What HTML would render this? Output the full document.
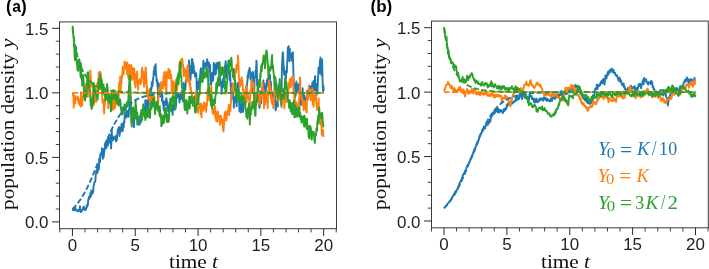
<!DOCTYPE html><html><head><meta charset="utf-8"><style>html,body{margin:0;padding:0;background:#fff;}svg{display:block;will-change:transform}</style></head><body>
<svg width="709" height="269" viewBox="0 0 709 269">
<rect width="709" height="269" fill="#fff"/>
<defs><clipPath id="ca"><rect x="59.5" y="21.9" width="277.0" height="206.8"/></clipPath><clipPath id="cb"><rect x="431.5" y="21.1" width="276.8" height="206.7"/></clipPath></defs>
<g clip-path="url(#ca)" fill="none" stroke-linejoin="round" stroke-linecap="butt">
<path d="M72.45,208.99 L72.76,208.86 L73.08,210.33 L73.39,209.58 L73.71,209.01 L74.02,208.54 L74.33,208.53 L74.65,210.42 L74.96,208.58 L75.28,207.44 L75.59,210.03 L75.90,209.28 L76.22,209.38 L76.53,209.86 L76.85,210.50 L77.16,211.23 L77.47,211.19 L77.79,210.45 L78.10,211.16 L78.42,211.26 L78.73,210.87 L79.04,209.60 L79.36,210.25 L79.67,208.29 L79.99,206.27 L80.30,210.17 L80.61,212.00 L80.93,211.04 L81.24,211.84 L81.56,211.60 L81.87,211.10 L82.18,209.94 L82.50,209.84 L82.81,209.31 L83.13,207.47 L83.44,208.79 L83.75,206.63 L84.07,208.51 L84.38,209.79 L84.70,208.92 L85.01,209.72 L85.32,208.53 L85.64,210.10 L85.95,208.16 L86.27,208.29 L86.58,206.38 L86.89,205.14 L87.21,206.76 L87.52,204.73 L87.84,205.18 L88.15,201.12 L88.46,198.64 L88.78,199.03 L89.09,196.70 L89.41,198.86 L89.72,195.92 L90.03,197.35 L90.35,193.58 L90.66,192.61 L90.98,196.53 L91.29,190.56 L91.60,194.44 L91.92,193.50 L92.23,192.99 L92.55,193.52 L92.86,191.34 L93.17,191.97 L93.49,186.41 L93.80,185.29 L94.12,184.63 L94.43,182.26 L94.74,182.22 L95.06,181.04 L95.37,181.21 L95.69,175.73 L96.00,174.02 L96.31,170.33 L96.63,171.92 L96.94,171.70 L97.26,168.20 L97.57,172.69 L97.88,167.27 L98.20,164.87 L98.51,168.36 L98.83,169.54 L99.14,161.50 L99.45,159.25 L99.77,160.50 L100.08,162.26 L100.40,153.85 L100.71,155.37 L101.02,154.25 L101.34,152.79 L101.65,153.23 L101.97,148.21 L102.28,148.97 L102.59,155.01 L102.91,158.73 L103.22,151.33 L103.54,157.71 L103.85,155.23 L104.16,151.83 L104.48,151.12 L104.79,146.81 L105.11,143.59 L105.42,146.31 L105.73,141.95 L106.05,147.77 L106.36,148.24 L106.68,140.21 L106.99,145.45 L107.30,140.10 L107.62,143.75 L107.93,145.69 L108.25,140.37 L108.56,138.09 L108.87,142.77 L109.19,141.45 L109.50,142.62 L109.82,139.31 L110.13,138.90 L110.44,135.49 L110.76,136.82 L111.07,148.45 L111.39,142.69 L111.70,129.01 L112.01,136.67 L112.33,136.40 L112.64,136.42 L112.96,140.38 L113.27,139.83 L113.58,138.96 L113.90,137.43 L114.21,138.89 L114.53,137.17 L114.84,138.76 L115.15,136.84 L115.47,136.07 L115.78,136.91 L116.10,141.46 L116.41,137.32 L116.72,140.76 L117.04,137.82 L117.35,133.34 L117.67,130.87 L117.98,129.20 L118.29,129.47 L118.61,128.89 L118.92,126.95 L119.24,127.88 L119.55,135.98 L119.86,129.28 L120.18,127.92 L120.49,132.33 L120.81,130.85 L121.12,129.99 L121.43,125.17 L121.75,123.68 L122.06,129.01 L122.38,129.80 L122.69,131.11 L123.00,127.27 L123.32,123.54 L123.63,127.35 L123.95,121.49 L124.26,123.29 L124.57,117.60 L124.89,113.49 L125.20,112.24 L125.52,115.20 L125.83,117.65 L126.14,113.22 L126.46,117.51 L126.77,116.57 L127.09,110.74 L127.40,115.45 L127.71,112.07 L128.03,113.94 L128.34,111.46 L128.66,116.73 L128.97,110.04 L129.28,108.85 L129.60,103.27 L129.91,108.07 L130.23,96.72 L130.54,96.34 L130.85,105.55 L131.17,110.82 L131.48,111.48 L131.80,108.55 L132.11,110.75 L132.42,112.95 L132.74,110.98 L133.05,108.00 L133.37,118.19 L133.68,117.16 L133.99,127.21 L134.31,116.38 L134.62,116.61 L134.94,113.29 L135.25,117.49 L135.56,109.96 L135.88,107.04 L136.19,110.68 L136.51,119.41 L136.82,119.10 L137.13,112.65 L137.45,124.62 L137.76,116.13 L138.08,117.65 L138.39,122.90 L138.70,117.29 L139.02,123.91 L139.33,124.80 L139.65,123.98 L139.96,123.87 L140.27,122.02 L140.59,122.16 L140.90,119.03 L141.22,121.61 L141.53,110.00 L141.84,116.03 L142.16,111.60 L142.47,110.12 L142.79,111.06 L143.10,113.15 L143.41,111.48 L143.73,111.74 L144.04,108.39 L144.36,109.77 L144.67,114.11 L144.98,111.07 L145.30,100.29 L145.61,106.40 L145.93,109.74 L146.24,104.90 L146.55,100.11 L146.87,110.99 L147.18,103.58 L147.50,104.33 L147.81,105.98 L148.12,108.76 L148.44,100.43 L148.75,105.34 L149.07,99.94 L149.38,89.98 L149.69,90.61 L150.01,99.55 L150.32,88.42 L150.64,93.02 L150.95,90.88 L151.26,89.74 L151.58,87.76 L151.89,82.28 L152.21,81.72 L152.52,86.01 L152.83,81.57 L153.15,78.29 L153.46,76.94 L153.78,70.95 L154.09,74.53 L154.40,66.70 L154.72,68.21 L155.03,67.04 L155.35,65.67 L155.66,64.30 L155.97,75.16 L156.29,75.20 L156.60,81.54 L156.92,79.43 L157.23,79.90 L157.54,86.68 L157.86,86.29 L158.17,99.67 L158.49,82.95 L158.80,85.70 L159.11,93.58 L159.43,89.94 L159.74,85.07 L160.06,96.33 L160.37,95.17 L160.68,94.99 L161.00,96.20 L161.31,96.90 L161.63,91.28 L161.94,100.99 L162.25,93.16 L162.57,100.87 L162.88,102.54 L163.20,103.89 L163.51,106.72 L163.82,110.50 L164.14,104.04 L164.45,101.79 L164.77,105.14 L165.08,101.31 L165.39,100.73 L165.71,104.96 L166.02,99.82 L166.34,98.11 L166.65,100.42 L166.96,102.66 L167.28,102.14 L167.59,107.04 L167.91,105.19 L168.22,111.54 L168.53,107.31 L168.85,109.13 L169.16,109.19 L169.48,108.42 L169.79,102.31 L170.10,107.75 L170.42,106.24 L170.73,103.90 L171.05,109.87 L171.36,111.24 L171.67,106.79 L171.99,111.08 L172.30,106.89 L172.62,114.89 L172.93,105.26 L173.24,103.73 L173.56,105.82 L173.87,108.36 L174.19,109.70 L174.50,104.26 L174.81,108.21 L175.13,108.17 L175.44,108.70 L175.76,107.46 L176.07,105.16 L176.38,97.12 L176.70,95.04 L177.01,95.14 L177.33,97.70 L177.64,96.17 L177.95,93.01 L178.27,95.35 L178.58,93.89 L178.90,96.97 L179.21,96.94 L179.52,102.48 L179.84,94.61 L180.15,99.59 L180.47,99.30 L180.78,99.20 L181.09,94.36 L181.41,93.33 L181.72,91.27 L182.04,98.86 L182.35,92.27 L182.66,90.43 L182.98,101.59 L183.29,96.36 L183.61,82.97 L183.92,90.53 L184.23,84.88 L184.55,85.64 L184.86,89.30 L185.18,90.04 L185.49,88.30 L185.80,80.19 L186.12,82.68 L186.43,79.90 L186.75,80.56 L187.06,74.73 L187.37,77.12 L187.69,69.52 L188.00,75.58 L188.32,76.74 L188.63,77.76 L188.94,60.44 L189.26,76.78 L189.57,75.83 L189.89,65.96 L190.20,70.47 L190.51,79.88 L190.83,73.50 L191.14,68.98 L191.46,66.55 L191.77,59.32 L192.08,72.06 L192.40,59.10 L192.71,73.16 L193.03,62.76 L193.34,72.27 L193.65,65.16 L193.97,72.45 L194.28,72.14 L194.60,71.26 L194.91,76.46 L195.22,73.03 L195.54,73.04 L195.85,73.21 L196.17,73.39 L196.48,78.07 L196.79,91.13 L197.11,89.94 L197.42,85.17 L197.74,81.90 L198.05,81.71 L198.36,86.85 L198.68,84.62 L198.99,89.01 L199.31,78.74 L199.62,79.32 L199.93,78.08 L200.25,74.00 L200.56,69.96 L200.88,68.16 L201.19,72.80 L201.50,80.16 L201.82,71.67 L202.13,76.29 L202.45,79.03 L202.76,78.48 L203.07,68.76 L203.39,60.60 L203.70,72.80 L204.02,64.46 L204.33,66.37 L204.64,64.08 L204.96,65.34 L205.27,63.21 L205.59,63.87 L205.90,66.52 L206.21,68.57 L206.53,62.24 L206.84,65.89 L207.16,59.28 L207.47,60.79 L207.78,65.02 L208.10,64.01 L208.41,63.66 L208.73,66.96 L209.04,62.79 L209.35,67.86 L209.67,71.73 L209.98,65.00 L210.30,78.71 L210.61,84.20 L210.92,80.77 L211.24,84.42 L211.55,81.20 L211.87,76.67 L212.18,72.59 L212.49,72.89 L212.81,75.21 L213.12,80.43 L213.44,75.80 L213.75,62.95 L214.06,65.90 L214.38,65.63 L214.69,64.89 L215.01,72.40 L215.32,74.65 L215.63,70.11 L215.95,73.53 L216.26,63.33 L216.58,65.66 L216.89,64.46 L217.20,62.92 L217.52,68.23 L217.83,66.07 L218.15,62.36 L218.46,67.57 L218.77,71.25 L219.09,70.62 L219.40,77.93 L219.72,75.25 L220.03,79.21 L220.34,79.15 L220.66,83.71 L220.97,84.70 L221.29,83.25 L221.60,93.84 L221.91,86.36 L222.23,81.84 L222.54,81.66 L222.86,82.03 L223.17,78.31 L223.48,86.73 L223.80,84.71 L224.11,75.03 L224.43,79.79 L224.74,73.51 L225.05,66.06 L225.37,64.09 L225.68,61.16 L226.00,67.41 L226.31,69.84 L226.62,78.03 L226.94,68.41 L227.25,66.30 L227.57,65.30 L227.88,72.69 L228.19,65.44 L228.51,60.60 L228.82,69.39 L229.14,68.17 L229.45,71.85 L229.76,80.24 L230.08,70.64 L230.39,79.65 L230.71,86.00 L231.02,93.13 L231.33,83.78 L231.65,96.77 L231.96,92.03 L232.28,93.12 L232.59,89.67 L232.90,95.22 L233.22,99.09 L233.53,95.94 L233.85,107.60 L234.16,99.76 L234.47,103.17 L234.79,100.90 L235.10,99.14 L235.42,97.21 L235.73,98.73 L236.04,94.92 L236.36,94.58 L236.67,106.26 L236.99,92.63 L237.30,83.18 L237.61,87.06 L237.93,89.20 L238.24,82.84 L238.56,89.15 L238.87,101.65 L239.18,100.61 L239.50,111.42 L239.81,110.78 L240.13,107.19 L240.44,111.07 L240.75,112.64 L241.07,105.70 L241.38,101.72 L241.70,104.76 L242.01,101.52 L242.32,109.66 L242.64,111.26 L242.95,112.10 L243.27,108.37 L243.58,103.86 L243.89,103.45 L244.21,93.15 L244.52,99.56 L244.84,93.60 L245.15,94.64 L245.46,94.91 L245.78,94.10 L246.09,92.74 L246.41,101.91 L246.72,87.13 L247.03,83.73 L247.35,82.61 L247.66,75.81 L247.98,78.31 L248.29,73.08 L248.60,71.07 L248.92,70.66 L249.23,69.78 L249.55,68.00 L249.86,70.05 L250.17,73.17 L250.49,79.52 L250.80,74.61 L251.12,73.20 L251.43,77.87 L251.74,92.03 L252.06,76.81 L252.37,77.43 L252.69,71.90 L253.00,72.32 L253.31,82.31 L253.63,90.77 L253.94,93.84 L254.26,92.38 L254.57,78.74 L254.88,77.64 L255.20,77.59 L255.51,70.60 L255.83,73.11 L256.14,68.91 L256.45,60.60 L256.77,64.48 L257.08,85.12 L257.40,80.50 L257.71,86.73 L258.02,102.15 L258.34,99.95 L258.65,99.22 L258.97,100.56 L259.28,107.15 L259.59,107.79 L259.91,103.95 L260.22,91.32 L260.54,97.00 L260.85,99.50 L261.16,103.35 L261.48,91.84 L261.79,96.87 L262.11,87.85 L262.42,94.32 L262.73,86.87 L263.05,87.37 L263.36,80.39 L263.68,96.96 L263.99,101.18 L264.30,83.38 L264.62,94.86 L264.93,92.33 L265.25,95.88 L265.56,93.35 L265.87,89.54 L266.19,88.47 L266.50,84.68 L266.82,80.46 L267.13,82.72 L267.44,79.04 L267.76,79.71 L268.07,78.69 L268.39,84.99 L268.70,87.49 L269.01,86.35 L269.33,85.03 L269.64,80.23 L269.96,74.67 L270.27,84.39 L270.58,87.84 L270.90,81.74 L271.21,93.74 L271.53,90.99 L271.84,94.06 L272.15,94.55 L272.47,103.80 L272.78,101.37 L273.10,96.94 L273.41,96.80 L273.72,100.11 L274.04,93.43 L274.35,91.92 L274.67,89.91 L274.98,97.55 L275.29,103.00 L275.61,110.36 L275.92,109.31 L276.24,106.49 L276.55,105.82 L276.86,106.51 L277.18,100.99 L277.49,99.81 L277.81,106.35 L278.12,94.74 L278.43,86.35 L278.75,91.19 L279.06,90.96 L279.38,83.96 L279.69,88.21 L280.00,92.85 L280.32,98.42 L280.63,90.64 L280.95,92.64 L281.26,92.30 L281.57,91.28 L281.89,69.23 L282.20,62.94 L282.52,55.88 L282.83,52.30 L283.14,55.98 L283.46,63.36 L283.77,66.38 L284.09,74.49 L284.40,70.26 L284.71,72.48 L285.03,72.75 L285.34,72.48 L285.66,79.65 L285.97,78.16 L286.28,71.22 L286.60,70.21 L286.91,72.26 L287.23,62.01 L287.54,58.53 L287.85,47.27 L288.17,48.91 L288.48,51.56 L288.80,46.20 L289.11,56.60 L289.42,61.27 L289.74,48.61 L290.05,55.66 L290.37,57.03 L290.68,56.31 L290.99,54.39 L291.31,53.41 L291.62,60.59 L291.94,58.94 L292.25,57.56 L292.56,54.02 L292.88,52.30 L293.19,64.13 L293.51,76.08 L293.82,85.89 L294.13,83.51 L294.45,85.40 L294.76,84.39 L295.08,97.36 L295.39,87.14 L295.70,95.72 L296.02,87.35 L296.33,81.53 L296.65,85.25 L296.96,85.03 L297.27,84.48 L297.59,92.91 L297.90,88.55 L298.22,87.00 L298.53,89.99 L298.84,87.60 L299.16,83.82 L299.47,88.50 L299.79,84.47 L300.10,91.11 L300.41,95.31 L300.73,99.34 L301.04,105.02 L301.36,99.53 L301.67,93.27 L301.98,94.25 L302.30,94.73 L302.61,88.17 L302.93,92.32 L303.24,101.48 L303.55,95.61 L303.87,97.87 L304.18,95.17 L304.50,98.44 L304.81,102.19 L305.12,97.60 L305.44,104.57 L305.75,98.79 L306.07,106.79 L306.38,98.36 L306.69,96.77 L307.01,91.52 L307.32,90.67 L307.64,96.14 L307.95,99.41 L308.26,97.33 L308.58,94.59 L308.89,87.38 L309.21,85.57 L309.52,95.28 L309.83,88.34 L310.15,86.63 L310.46,96.27 L310.78,89.47 L311.09,86.10 L311.40,92.74 L311.72,95.27 L312.03,90.14 L312.35,82.63 L312.66,91.35 L312.97,90.72 L313.29,85.85 L313.60,81.00 L313.92,83.15 L314.23,87.57 L314.54,90.16 L314.86,77.02 L315.17,76.15 L315.49,85.31 L315.80,83.96 L316.11,84.12 L316.43,89.56 L316.74,94.82 L317.06,92.10 L317.37,92.62 L317.68,87.00 L318.00,78.32 L318.31,74.40 L318.63,67.43 L318.94,68.28 L319.25,72.62 L319.57,73.20 L319.88,60.61 L320.20,66.00 L320.51,57.40 L320.82,66.42 L321.14,69.77 L321.45,75.35 L321.77,74.00 L322.08,59.46 L322.39,71.58 L322.71,84.39 L323.02,91.25 L323.34,85.50 L323.65,91.14" stroke="#1f77b4" stroke-width="1.90"/>
<path d="M72.45,92.84 L72.76,93.03 L73.08,95.36 L73.39,94.50 L73.71,107.70 L74.02,100.28 L74.33,98.98 L74.65,100.13 L74.96,95.86 L75.28,103.21 L75.59,98.19 L75.90,97.86 L76.22,97.55 L76.53,97.92 L76.85,98.80 L77.16,98.03 L77.47,99.60 L77.79,96.49 L78.10,100.48 L78.42,101.27 L78.73,103.90 L79.04,99.40 L79.36,101.64 L79.67,101.47 L79.99,105.17 L80.30,105.30 L80.61,106.53 L80.93,92.30 L81.24,103.33 L81.56,102.61 L81.87,101.38 L82.18,105.44 L82.50,98.71 L82.81,96.45 L83.13,96.35 L83.44,96.56 L83.75,91.83 L84.07,90.28 L84.38,90.15 L84.70,99.72 L85.01,99.34 L85.32,95.39 L85.64,84.06 L85.95,90.41 L86.27,93.94 L86.58,92.04 L86.89,91.02 L87.21,90.70 L87.52,85.32 L87.84,96.62 L88.15,84.82 L88.46,81.13 L88.78,85.39 L89.09,91.15 L89.41,86.07 L89.72,81.94 L90.03,81.13 L90.35,70.40 L90.66,78.74 L90.98,79.57 L91.29,86.67 L91.60,82.01 L91.92,86.01 L92.23,84.54 L92.55,84.26 L92.86,84.19 L93.17,96.75 L93.49,95.14 L93.80,104.97 L94.12,102.95 L94.43,101.57 L94.74,93.46 L95.06,92.81 L95.37,99.09 L95.69,101.01 L96.00,96.63 L96.31,101.83 L96.63,96.03 L96.94,97.38 L97.26,83.61 L97.57,82.47 L97.88,85.45 L98.20,81.04 L98.51,78.43 L98.83,72.73 L99.14,77.02 L99.45,71.80 L99.77,76.09 L100.08,76.89 L100.40,72.24 L100.71,81.15 L101.02,76.57 L101.34,81.77 L101.65,88.98 L101.97,94.33 L102.28,96.60 L102.59,102.89 L102.91,99.28 L103.22,101.96 L103.54,103.27 L103.85,107.41 L104.16,113.50 L104.48,108.21 L104.79,103.79 L105.11,97.13 L105.42,96.08 L105.73,88.35 L106.05,92.95 L106.36,94.60 L106.68,93.28 L106.99,96.42 L107.30,92.90 L107.62,92.15 L107.93,97.52 L108.25,108.30 L108.56,96.47 L108.87,102.27 L109.19,103.82 L109.50,98.45 L109.82,98.52 L110.13,93.58 L110.44,99.34 L110.76,103.35 L111.07,102.52 L111.39,101.79 L111.70,97.02 L112.01,103.02 L112.33,106.12 L112.64,107.09 L112.96,109.93 L113.27,107.84 L113.58,109.17 L113.90,102.91 L114.21,96.59 L114.53,94.01 L114.84,95.67 L115.15,107.88 L115.47,94.34 L115.78,95.57 L116.10,92.75 L116.41,93.16 L116.72,97.79 L117.04,104.40 L117.35,97.35 L117.67,95.31 L117.98,98.40 L118.29,90.88 L118.61,99.15 L118.92,84.39 L119.24,92.35 L119.55,82.21 L119.86,85.68 L120.18,76.83 L120.49,87.47 L120.81,90.19 L121.12,80.87 L121.43,84.45 L121.75,75.02 L122.06,77.48 L122.38,74.33 L122.69,67.03 L123.00,73.72 L123.32,70.44 L123.63,74.32 L123.95,68.73 L124.26,67.79 L124.57,61.40 L124.89,67.71 L125.20,66.63 L125.52,62.56 L125.83,63.53 L126.14,65.96 L126.46,70.18 L126.77,69.17 L127.09,73.83 L127.40,62.56 L127.71,73.12 L128.03,74.61 L128.34,76.90 L128.66,78.86 L128.97,74.77 L129.28,64.87 L129.60,75.65 L129.91,78.39 L130.23,74.05 L130.54,77.96 L130.85,66.97 L131.17,65.03 L131.48,72.81 L131.80,66.97 L132.11,80.00 L132.42,76.25 L132.74,72.60 L133.05,68.23 L133.37,77.37 L133.68,78.51 L133.99,72.32 L134.31,68.39 L134.62,84.11 L134.94,76.07 L135.25,84.14 L135.56,87.63 L135.88,83.00 L136.19,73.83 L136.51,79.01 L136.82,76.82 L137.13,71.57 L137.45,79.42 L137.76,81.84 L138.08,89.73 L138.39,82.57 L138.70,80.80 L139.02,81.28 L139.33,81.61 L139.65,79.51 L139.96,80.49 L140.27,82.98 L140.59,84.36 L140.90,82.50 L141.22,77.32 L141.53,81.94 L141.84,70.30 L142.16,67.62 L142.47,75.55 L142.79,77.98 L143.10,72.04 L143.41,71.40 L143.73,78.32 L144.04,86.88 L144.36,74.59 L144.67,78.42 L144.98,83.86 L145.30,79.05 L145.61,67.43 L145.93,68.73 L146.24,77.75 L146.55,78.57 L146.87,94.19 L147.18,86.40 L147.50,96.36 L147.81,94.18 L148.12,98.69 L148.44,96.88 L148.75,91.33 L149.07,95.57 L149.38,89.69 L149.69,92.48 L150.01,98.17 L150.32,105.32 L150.64,99.88 L150.95,97.84 L151.26,99.36 L151.58,96.44 L151.89,99.28 L152.21,93.66 L152.52,101.19 L152.83,104.94 L153.15,98.70 L153.46,95.75 L153.78,100.55 L154.09,96.83 L154.40,96.79 L154.72,104.08 L155.03,102.28 L155.35,102.52 L155.66,102.67 L155.97,106.92 L156.29,101.92 L156.60,105.03 L156.92,108.54 L157.23,106.46 L157.54,109.69 L157.86,101.97 L158.17,105.59 L158.49,93.57 L158.80,89.51 L159.11,92.75 L159.43,88.05 L159.74,95.25 L160.06,90.27 L160.37,85.03 L160.68,91.75 L161.00,84.20 L161.31,81.88 L161.63,88.49 L161.94,88.10 L162.25,85.56 L162.57,88.23 L162.88,88.54 L163.20,88.06 L163.51,76.17 L163.82,85.51 L164.14,72.21 L164.45,73.11 L164.77,72.85 L165.08,71.99 L165.39,75.07 L165.71,85.66 L166.02,89.51 L166.34,93.58 L166.65,81.39 L166.96,72.75 L167.28,75.97 L167.59,71.36 L167.91,77.69 L168.22,74.94 L168.53,68.80 L168.85,76.69 L169.16,75.57 L169.48,78.34 L169.79,71.95 L170.10,70.34 L170.42,77.16 L170.73,75.30 L171.05,74.58 L171.36,77.22 L171.67,92.82 L171.99,91.33 L172.30,92.12 L172.62,94.23 L172.93,81.15 L173.24,85.75 L173.56,92.18 L173.87,84.85 L174.19,86.74 L174.50,85.59 L174.81,93.35 L175.13,82.02 L175.44,86.53 L175.76,81.34 L176.07,79.45 L176.38,83.92 L176.70,87.94 L177.01,89.99 L177.33,84.66 L177.64,85.88 L177.95,79.32 L178.27,78.74 L178.58,78.06 L178.90,73.74 L179.21,74.00 L179.52,64.97 L179.84,61.67 L180.15,71.90 L180.47,65.60 L180.78,65.36 L181.09,59.41 L181.41,60.11 L181.72,65.68 L182.04,58.66 L182.35,59.01 L182.66,63.87 L182.98,65.02 L183.29,67.97 L183.61,76.08 L183.92,72.11 L184.23,73.38 L184.55,68.25 L184.86,69.55 L185.18,69.77 L185.49,75.26 L185.80,76.83 L186.12,75.30 L186.43,82.69 L186.75,78.56 L187.06,75.71 L187.37,66.11 L187.69,70.96 L188.00,65.40 L188.32,74.64 L188.63,78.26 L188.94,82.22 L189.26,79.14 L189.57,85.39 L189.89,81.90 L190.20,83.24 L190.51,90.13 L190.83,87.40 L191.14,93.46 L191.46,91.81 L191.77,92.72 L192.08,95.63 L192.40,102.30 L192.71,98.30 L193.03,103.95 L193.34,103.54 L193.65,100.40 L193.97,97.01 L194.28,96.24 L194.60,97.09 L194.91,105.53 L195.22,96.82 L195.54,97.48 L195.85,91.43 L196.17,100.23 L196.48,99.02 L196.79,106.37 L197.11,108.30 L197.42,110.27 L197.74,112.90 L198.05,110.41 L198.36,108.44 L198.68,107.47 L198.99,106.57 L199.31,105.92 L199.62,106.42 L199.93,103.89 L200.25,107.53 L200.56,114.11 L200.88,109.36 L201.19,103.57 L201.50,117.19 L201.82,108.41 L202.13,105.45 L202.45,108.67 L202.76,106.08 L203.07,109.80 L203.39,110.52 L203.70,107.65 L204.02,102.35 L204.33,103.03 L204.64,107.90 L204.96,103.39 L205.27,105.87 L205.59,104.76 L205.90,104.46 L206.21,111.78 L206.53,103.59 L206.84,104.47 L207.16,105.31 L207.47,89.20 L207.78,95.22 L208.10,91.99 L208.41,95.05 L208.73,97.70 L209.04,93.92 L209.35,100.49 L209.67,93.77 L209.98,88.78 L210.30,94.28 L210.61,96.42 L210.92,93.24 L211.24,85.97 L211.55,95.10 L211.87,99.47 L212.18,102.69 L212.49,112.92 L212.81,110.96 L213.12,111.22 L213.44,114.00 L213.75,114.14 L214.06,111.61 L214.38,108.31 L214.69,112.78 L215.01,106.20 L215.32,117.05 L215.63,117.23 L215.95,117.90 L216.26,121.15 L216.58,112.14 L216.89,115.39 L217.20,115.64 L217.52,121.80 L217.83,111.48 L218.15,113.34 L218.46,118.14 L218.77,116.87 L219.09,118.26 L219.40,116.10 L219.72,116.21 L220.03,124.90 L220.34,122.82 L220.66,120.92 L220.97,115.68 L221.29,119.35 L221.60,118.82 L221.91,122.58 L222.23,119.28 L222.54,119.68 L222.86,128.65 L223.17,125.31 L223.48,131.50 L223.80,127.45 L224.11,122.94 L224.43,115.25 L224.74,113.13 L225.05,112.70 L225.37,111.35 L225.68,115.78 L226.00,115.06 L226.31,120.54 L226.62,118.77 L226.94,115.25 L227.25,114.23 L227.57,111.23 L227.88,110.32 L228.19,111.03 L228.51,109.70 L228.82,104.78 L229.14,115.07 L229.45,110.43 L229.76,111.84 L230.08,107.41 L230.39,110.92 L230.71,104.06 L231.02,101.84 L231.33,93.14 L231.65,96.38 L231.96,87.56 L232.28,89.43 L232.59,88.73 L232.90,83.20 L233.22,88.94 L233.53,85.67 L233.85,87.36 L234.16,86.53 L234.47,90.23 L234.79,84.11 L235.10,72.88 L235.42,70.16 L235.73,70.02 L236.04,72.65 L236.36,65.23 L236.67,64.82 L236.99,68.24 L237.30,66.23 L237.61,68.90 L237.93,55.40 L238.24,61.43 L238.56,68.04 L238.87,76.74 L239.18,79.80 L239.50,84.82 L239.81,86.82 L240.13,85.80 L240.44,85.43 L240.75,83.79 L241.07,79.78 L241.38,79.15 L241.70,77.29 L242.01,80.79 L242.32,80.39 L242.64,86.44 L242.95,90.68 L243.27,91.12 L243.58,89.30 L243.89,93.37 L244.21,98.35 L244.52,98.24 L244.84,103.22 L245.15,106.17 L245.46,102.46 L245.78,103.33 L246.09,85.85 L246.41,90.37 L246.72,97.44 L247.03,89.54 L247.35,97.84 L247.66,92.89 L247.98,96.86 L248.29,96.96 L248.60,99.57 L248.92,97.91 L249.23,100.03 L249.55,107.49 L249.86,107.72 L250.17,91.15 L250.49,94.69 L250.80,93.01 L251.12,93.26 L251.43,85.59 L251.74,79.11 L252.06,86.74 L252.37,83.15 L252.69,83.53 L253.00,83.15 L253.31,83.84 L253.63,82.74 L253.94,95.93 L254.26,97.22 L254.57,93.07 L254.88,96.70 L255.20,96.77 L255.51,101.05 L255.83,99.37 L256.14,94.91 L256.45,93.89 L256.77,96.16 L257.08,96.32 L257.40,95.12 L257.71,95.18 L258.02,96.01 L258.34,92.40 L258.65,94.44 L258.97,104.79 L259.28,103.29 L259.59,95.67 L259.91,101.03 L260.22,103.34 L260.54,94.77 L260.85,97.85 L261.16,95.75 L261.48,95.63 L261.79,94.18 L262.11,98.02 L262.42,82.24 L262.73,88.56 L263.05,91.45 L263.36,97.98 L263.68,89.83 L263.99,108.18 L264.30,95.71 L264.62,94.69 L264.93,96.67 L265.25,104.61 L265.56,97.17 L265.87,96.36 L266.19,101.67 L266.50,97.69 L266.82,94.35 L267.13,95.49 L267.44,96.03 L267.76,108.32 L268.07,90.34 L268.39,95.21 L268.70,94.04 L269.01,80.31 L269.33,80.69 L269.64,92.14 L269.96,93.45 L270.27,86.16 L270.58,93.65 L270.90,98.73 L271.21,90.53 L271.53,101.70 L271.84,100.75 L272.15,101.69 L272.47,97.74 L272.78,103.52 L273.10,103.65 L273.41,108.29 L273.72,102.73 L274.04,102.06 L274.35,96.82 L274.67,93.09 L274.98,88.33 L275.29,94.80 L275.61,93.12 L275.92,87.57 L276.24,89.95 L276.55,92.95 L276.86,96.16 L277.18,89.67 L277.49,91.90 L277.81,89.53 L278.12,97.84 L278.43,102.16 L278.75,98.36 L279.06,94.90 L279.38,96.84 L279.69,96.41 L280.00,99.11 L280.32,97.48 L280.63,95.19 L280.95,94.21 L281.26,101.13 L281.57,107.35 L281.89,92.33 L282.20,89.08 L282.52,96.32 L282.83,89.46 L283.14,96.92 L283.46,99.11 L283.77,96.67 L284.09,100.82 L284.40,108.40 L284.71,102.40 L285.03,96.90 L285.34,99.18 L285.66,98.72 L285.97,92.11 L286.28,93.37 L286.60,102.11 L286.91,98.55 L287.23,100.57 L287.54,88.95 L287.85,96.35 L288.17,95.41 L288.48,83.32 L288.80,88.50 L289.11,86.89 L289.42,85.11 L289.74,80.00 L290.05,83.97 L290.37,78.55 L290.68,78.58 L290.99,86.93 L291.31,80.57 L291.62,81.56 L291.94,78.29 L292.25,76.84 L292.56,82.43 L292.88,83.91 L293.19,76.80 L293.51,94.02 L293.82,93.25 L294.13,90.25 L294.45,105.07 L294.76,98.33 L295.08,105.33 L295.39,105.96 L295.70,111.49 L296.02,102.31 L296.33,102.99 L296.65,102.63 L296.96,103.86 L297.27,107.13 L297.59,109.69 L297.90,112.89 L298.22,110.76 L298.53,112.76 L298.84,112.60 L299.16,100.11 L299.47,92.94 L299.79,90.44 L300.10,77.34 L300.41,91.18 L300.73,94.77 L301.04,96.26 L301.36,93.42 L301.67,99.47 L301.98,100.03 L302.30,97.90 L302.61,104.22 L302.93,100.41 L303.24,104.05 L303.55,109.97 L303.87,101.16 L304.18,104.98 L304.50,103.06 L304.81,100.88 L305.12,108.14 L305.44,105.40 L305.75,109.69 L306.07,110.62 L306.38,106.58 L306.69,112.53 L307.01,96.98 L307.32,92.20 L307.64,95.59 L307.95,97.56 L308.26,98.94 L308.58,95.95 L308.89,86.58 L309.21,90.26 L309.52,93.06 L309.83,89.12 L310.15,90.31 L310.46,91.73 L310.78,100.28 L311.09,99.84 L311.40,94.46 L311.72,91.86 L312.03,91.92 L312.35,88.50 L312.66,97.75 L312.97,104.48 L313.29,99.53 L313.60,106.77 L313.92,96.15 L314.23,92.20 L314.54,97.28 L314.86,99.94 L315.17,94.25 L315.49,94.50 L315.80,92.15 L316.11,101.65 L316.43,104.22 L316.74,106.53 L317.06,109.90 L317.37,102.99 L317.68,107.42 L318.00,103.68 L318.31,107.19 L318.63,98.37 L318.94,111.76 L319.25,113.56 L319.57,120.82 L319.88,116.95 L320.20,113.92 L320.51,122.74 L320.82,124.97 L321.14,118.63 L321.45,124.28 L321.77,134.83 L322.08,129.57 L322.39,132.92 L322.71,130.41 L323.02,130.11 L323.34,136.30 L323.65,137.00" stroke="#ff7f0e" stroke-width="1.90"/>
<path d="M72.45,25.73 L72.76,27.21 L73.08,32.40 L73.39,35.02 L73.71,38.37 L74.02,47.05 L74.33,47.20 L74.65,56.92 L74.96,60.14 L75.28,58.87 L75.59,51.56 L75.90,47.32 L76.22,56.81 L76.53,58.99 L76.85,63.84 L77.16,63.91 L77.47,69.85 L77.79,65.17 L78.10,70.80 L78.42,61.13 L78.73,61.32 L79.04,67.85 L79.36,59.29 L79.67,63.40 L79.99,63.39 L80.30,72.52 L80.61,77.42 L80.93,63.27 L81.24,72.59 L81.56,79.04 L81.87,76.66 L82.18,85.64 L82.50,83.47 L82.81,83.48 L83.13,75.08 L83.44,78.67 L83.75,84.59 L84.07,96.35 L84.38,90.08 L84.70,98.90 L85.01,100.59 L85.32,98.30 L85.64,96.97 L85.95,96.92 L86.27,95.51 L86.58,88.88 L86.89,84.72 L87.21,79.91 L87.52,72.33 L87.84,77.61 L88.15,72.19 L88.46,80.21 L88.78,81.71 L89.09,87.67 L89.41,87.45 L89.72,88.24 L90.03,91.65 L90.35,97.98 L90.66,105.57 L90.98,101.05 L91.29,99.60 L91.60,109.00 L91.92,105.98 L92.23,107.75 L92.55,95.84 L92.86,100.95 L93.17,103.85 L93.49,98.15 L93.80,83.00 L94.12,85.26 L94.43,89.35 L94.74,86.15 L95.06,93.14 L95.37,90.82 L95.69,90.93 L96.00,92.35 L96.31,95.24 L96.63,96.20 L96.94,92.87 L97.26,97.31 L97.57,99.75 L97.88,95.37 L98.20,91.74 L98.51,88.38 L98.83,78.74 L99.14,81.11 L99.45,85.45 L99.77,87.91 L100.08,88.83 L100.40,74.01 L100.71,87.54 L101.02,84.79 L101.34,81.34 L101.65,79.56 L101.97,82.64 L102.28,86.27 L102.59,93.41 L102.91,92.45 L103.22,90.73 L103.54,84.33 L103.85,89.07 L104.16,87.79 L104.48,95.31 L104.79,91.63 L105.11,96.02 L105.42,100.59 L105.73,95.01 L106.05,99.71 L106.36,94.81 L106.68,99.18 L106.99,84.06 L107.30,86.05 L107.62,87.34 L107.93,94.24 L108.25,94.90 L108.56,102.25 L108.87,96.87 L109.19,100.25 L109.50,97.59 L109.82,95.42 L110.13,101.21 L110.44,100.84 L110.76,108.35 L111.07,111.30 L111.39,102.55 L111.70,97.48 L112.01,92.44 L112.33,95.60 L112.64,99.56 L112.96,95.15 L113.27,89.88 L113.58,90.65 L113.90,95.78 L114.21,95.98 L114.53,98.74 L114.84,93.37 L115.15,91.81 L115.47,91.20 L115.78,92.79 L116.10,101.07 L116.41,92.69 L116.72,102.88 L117.04,97.84 L117.35,95.08 L117.67,94.78 L117.98,98.27 L118.29,103.21 L118.61,105.51 L118.92,103.37 L119.24,104.61 L119.55,102.47 L119.86,99.36 L120.18,99.61 L120.49,102.71 L120.81,108.45 L121.12,109.36 L121.43,111.13 L121.75,114.03 L122.06,107.35 L122.38,114.67 L122.69,113.47 L123.00,112.02 L123.32,107.83 L123.63,106.91 L123.95,109.33 L124.26,105.77 L124.57,104.54 L124.89,106.60 L125.20,106.32 L125.52,113.17 L125.83,107.50 L126.14,107.47 L126.46,104.67 L126.77,102.80 L127.09,106.58 L127.40,102.11 L127.71,101.16 L128.03,103.02 L128.34,100.89 L128.66,92.15 L128.97,87.09 L129.28,82.44 L129.60,75.68 L129.91,75.99 L130.23,84.19 L130.54,95.60 L130.85,102.82 L131.17,121.19 L131.48,123.83 L131.80,126.49 L132.11,119.93 L132.42,119.70 L132.74,120.50 L133.05,107.49 L133.37,118.93 L133.68,115.96 L133.99,116.43 L134.31,113.43 L134.62,109.70 L134.94,116.43 L135.25,108.63 L135.56,99.88 L135.88,105.93 L136.19,108.06 L136.51,114.69 L136.82,112.54 L137.13,112.98 L137.45,123.92 L137.76,120.55 L138.08,121.76 L138.39,121.96 L138.70,121.24 L139.02,121.63 L139.33,118.02 L139.65,116.31 L139.96,118.06 L140.27,117.24 L140.59,113.70 L140.90,115.42 L141.22,118.24 L141.53,110.63 L141.84,119.85 L142.16,116.03 L142.47,115.86 L142.79,113.76 L143.10,104.16 L143.41,111.45 L143.73,111.50 L144.04,110.00 L144.36,116.02 L144.67,117.12 L144.98,113.10 L145.30,119.99 L145.61,114.58 L145.93,115.32 L146.24,115.98 L146.55,117.70 L146.87,110.91 L147.18,108.51 L147.50,114.30 L147.81,115.64 L148.12,116.46 L148.44,116.78 L148.75,107.94 L149.07,109.20 L149.38,111.54 L149.69,117.28 L150.01,117.96 L150.32,109.74 L150.64,107.77 L150.95,103.17 L151.26,102.33 L151.58,108.90 L151.89,103.44 L152.21,100.78 L152.52,100.33 L152.83,106.02 L153.15,98.69 L153.46,106.19 L153.78,97.60 L154.09,101.93 L154.40,101.94 L154.72,107.87 L155.03,114.20 L155.35,110.54 L155.66,109.05 L155.97,103.81 L156.29,106.23 L156.60,107.43 L156.92,103.77 L157.23,101.78 L157.54,101.26 L157.86,104.70 L158.17,110.93 L158.49,106.75 L158.80,108.19 L159.11,110.34 L159.43,115.49 L159.74,106.41 L160.06,109.98 L160.37,116.80 L160.68,117.79 L161.00,114.29 L161.31,126.30 L161.63,123.98 L161.94,120.75 L162.25,124.74 L162.57,118.85 L162.88,118.37 L163.20,115.42 L163.51,118.26 L163.82,123.10 L164.14,119.98 L164.45,116.54 L164.77,116.42 L165.08,108.41 L165.39,111.77 L165.71,108.94 L166.02,107.62 L166.34,115.48 L166.65,121.80 L166.96,119.00 L167.28,114.49 L167.59,119.34 L167.91,122.07 L168.22,120.22 L168.53,119.84 L168.85,121.66 L169.16,111.82 L169.48,112.27 L169.79,105.83 L170.10,103.87 L170.42,98.61 L170.73,98.65 L171.05,109.60 L171.36,102.15 L171.67,98.52 L171.99,97.75 L172.30,97.28 L172.62,101.61 L172.93,99.19 L173.24,95.82 L173.56,95.56 L173.87,98.34 L174.19,102.70 L174.50,101.89 L174.81,106.93 L175.13,109.51 L175.44,100.01 L175.76,96.49 L176.07,84.57 L176.38,85.35 L176.70,84.59 L177.01,83.71 L177.33,77.13 L177.64,82.48 L177.95,74.25 L178.27,74.42 L178.58,83.91 L178.90,72.35 L179.21,78.11 L179.52,71.80 L179.84,62.50 L180.15,66.24 L180.47,62.82 L180.78,74.62 L181.09,76.89 L181.41,76.88 L181.72,85.46 L182.04,88.08 L182.35,88.64 L182.66,91.27 L182.98,90.05 L183.29,99.91 L183.61,97.75 L183.92,89.01 L184.23,99.81 L184.55,108.49 L184.86,109.66 L185.18,110.10 L185.49,102.93 L185.80,104.92 L186.12,99.87 L186.43,104.60 L186.75,100.37 L187.06,110.15 L187.37,113.63 L187.69,104.74 L188.00,104.29 L188.32,102.73 L188.63,108.69 L188.94,103.04 L189.26,96.82 L189.57,108.47 L189.89,106.58 L190.20,99.45 L190.51,98.59 L190.83,102.97 L191.14,96.40 L191.46,98.13 L191.77,97.78 L192.08,103.09 L192.40,101.60 L192.71,104.68 L193.03,105.82 L193.34,100.75 L193.65,102.22 L193.97,96.85 L194.28,99.17 L194.60,103.99 L194.91,111.01 L195.22,112.70 L195.54,112.30 L195.85,110.14 L196.17,106.54 L196.48,106.41 L196.79,104.83 L197.11,104.25 L197.42,98.67 L197.74,93.96 L198.05,96.37 L198.36,103.98 L198.68,97.59 L198.99,92.23 L199.31,94.63 L199.62,94.67 L199.93,86.58 L200.25,84.08 L200.56,79.30 L200.88,79.51 L201.19,75.92 L201.50,78.64 L201.82,75.48 L202.13,82.02 L202.45,74.28 L202.76,81.69 L203.07,69.65 L203.39,76.43 L203.70,75.94 L204.02,74.58 L204.33,75.03 L204.64,77.81 L204.96,75.54 L205.27,72.94 L205.59,75.52 L205.90,73.47 L206.21,76.07 L206.53,67.25 L206.84,76.99 L207.16,76.14 L207.47,74.19 L207.78,68.79 L208.10,81.22 L208.41,92.23 L208.73,84.38 L209.04,90.26 L209.35,95.46 L209.67,95.11 L209.98,93.03 L210.30,95.91 L210.61,92.32 L210.92,104.99 L211.24,91.73 L211.55,103.71 L211.87,108.04 L212.18,101.36 L212.49,103.65 L212.81,99.47 L213.12,103.46 L213.44,104.99 L213.75,104.96 L214.06,105.30 L214.38,100.67 L214.69,99.33 L215.01,103.12 L215.32,96.91 L215.63,95.65 L215.95,91.36 L216.26,83.37 L216.58,92.08 L216.89,89.62 L217.20,81.83 L217.52,84.93 L217.83,81.54 L218.15,77.70 L218.46,83.65 L218.77,82.44 L219.09,85.92 L219.40,80.52 L219.72,62.32 L220.03,71.09 L220.34,71.43 L220.66,73.73 L220.97,71.74 L221.29,74.08 L221.60,75.32 L221.91,67.52 L222.23,73.62 L222.54,67.10 L222.86,67.92 L223.17,73.92 L223.48,69.97 L223.80,68.41 L224.11,73.09 L224.43,80.70 L224.74,88.26 L225.05,81.18 L225.37,92.03 L225.68,93.58 L226.00,87.26 L226.31,91.67 L226.62,87.45 L226.94,82.73 L227.25,80.13 L227.57,75.80 L227.88,70.40 L228.19,64.56 L228.51,62.91 L228.82,68.23 L229.14,71.81 L229.45,67.60 L229.76,62.08 L230.08,60.20 L230.39,62.08 L230.71,60.71 L231.02,65.60 L231.33,57.60 L231.65,61.43 L231.96,70.51 L232.28,68.90 L232.59,71.07 L232.90,77.17 L233.22,73.42 L233.53,74.57 L233.85,69.05 L234.16,79.54 L234.47,79.89 L234.79,79.58 L235.10,81.67 L235.42,93.24 L235.73,94.58 L236.04,91.28 L236.36,93.65 L236.67,93.01 L236.99,89.03 L237.30,99.47 L237.61,97.48 L237.93,95.14 L238.24,94.23 L238.56,88.84 L238.87,93.08 L239.18,100.59 L239.50,101.48 L239.81,100.09 L240.13,97.14 L240.44,101.84 L240.75,102.34 L241.07,101.43 L241.38,93.93 L241.70,96.03 L242.01,95.69 L242.32,99.10 L242.64,97.22 L242.95,102.13 L243.27,102.21 L243.58,101.44 L243.89,97.45 L244.21,97.61 L244.52,103.46 L244.84,105.50 L245.15,102.68 L245.46,109.40 L245.78,110.10 L246.09,110.73 L246.41,117.16 L246.72,116.00 L247.03,112.95 L247.35,118.80 L247.66,108.28 L247.98,115.48 L248.29,112.83 L248.60,109.68 L248.92,103.79 L249.23,110.03 L249.55,118.24 L249.86,124.65 L250.17,111.91 L250.49,114.07 L250.80,114.34 L251.12,107.01 L251.43,110.76 L251.74,108.32 L252.06,105.42 L252.37,101.94 L252.69,102.09 L253.00,105.89 L253.31,107.14 L253.63,108.68 L253.94,103.05 L254.26,94.38 L254.57,103.94 L254.88,109.76 L255.20,115.51 L255.51,115.80 L255.83,105.51 L256.14,104.48 L256.45,102.17 L256.77,101.09 L257.08,98.20 L257.40,99.96 L257.71,86.99 L258.02,92.77 L258.34,88.58 L258.65,83.67 L258.97,82.83 L259.28,79.61 L259.59,81.78 L259.91,86.77 L260.22,73.49 L260.54,77.58 L260.85,70.93 L261.16,65.54 L261.48,67.63 L261.79,71.25 L262.11,63.93 L262.42,63.63 L262.73,64.38 L263.05,60.98 L263.36,57.70 L263.68,55.40 L263.99,62.32 L264.30,61.06 L264.62,57.24 L264.93,68.37 L265.25,65.40 L265.56,58.44 L265.87,52.72 L266.19,58.17 L266.50,50.33 L266.82,50.75 L267.13,57.26 L267.44,59.52 L267.76,63.84 L268.07,66.78 L268.39,79.20 L268.70,74.83 L269.01,72.49 L269.33,69.52 L269.64,68.51 L269.96,66.96 L270.27,70.71 L270.58,68.95 L270.90,66.13 L271.21,67.07 L271.53,61.87 L271.84,57.47 L272.15,55.00 L272.47,68.83 L272.78,65.75 L273.10,65.70 L273.41,72.04 L273.72,73.59 L274.04,75.36 L274.35,82.28 L274.67,89.54 L274.98,80.54 L275.29,77.06 L275.61,79.41 L275.92,81.88 L276.24,83.14 L276.55,83.76 L276.86,90.29 L277.18,88.49 L277.49,98.40 L277.81,94.40 L278.12,97.79 L278.43,93.11 L278.75,93.68 L279.06,91.05 L279.38,84.62 L279.69,79.04 L280.00,82.94 L280.32,86.03 L280.63,96.23 L280.95,96.74 L281.26,104.93 L281.57,101.77 L281.89,94.43 L282.20,90.18 L282.52,88.67 L282.83,96.04 L283.14,90.36 L283.46,95.78 L283.77,97.74 L284.09,98.36 L284.40,92.07 L284.71,85.87 L285.03,78.78 L285.34,78.63 L285.66,85.44 L285.97,88.84 L286.28,81.54 L286.60,86.13 L286.91,87.36 L287.23,91.04 L287.54,95.67 L287.85,100.16 L288.17,100.75 L288.48,100.09 L288.80,104.31 L289.11,107.12 L289.42,108.31 L289.74,100.27 L290.05,104.54 L290.37,103.28 L290.68,111.45 L290.99,103.74 L291.31,105.54 L291.62,106.79 L291.94,102.93 L292.25,114.30 L292.56,114.30 L292.88,108.65 L293.19,110.24 L293.51,106.32 L293.82,100.33 L294.13,107.91 L294.45,117.35 L294.76,109.72 L295.08,105.47 L295.39,109.07 L295.70,116.89 L296.02,107.32 L296.33,111.97 L296.65,110.47 L296.96,115.23 L297.27,108.83 L297.59,116.67 L297.90,115.94 L298.22,110.78 L298.53,108.06 L298.84,113.23 L299.16,116.44 L299.47,106.95 L299.79,116.21 L300.10,112.69 L300.41,116.20 L300.73,119.34 L301.04,115.71 L301.36,119.80 L301.67,122.69 L301.98,121.07 L302.30,120.12 L302.61,116.65 L302.93,116.41 L303.24,116.51 L303.55,117.88 L303.87,124.53 L304.18,126.68 L304.50,115.80 L304.81,117.55 L305.12,119.82 L305.44,120.02 L305.75,126.42 L306.07,124.92 L306.38,124.57 L306.69,129.03 L307.01,118.73 L307.32,127.10 L307.64,125.24 L307.95,126.36 L308.26,127.45 L308.58,136.54 L308.89,133.07 L309.21,138.60 L309.52,136.00 L309.83,128.32 L310.15,125.61 L310.46,129.09 L310.78,127.69 L311.09,130.42 L311.40,136.82 L311.72,139.62 L312.03,134.88 L312.35,133.55 L312.66,131.63 L312.97,133.55 L313.29,133.27 L313.60,131.75 L313.92,134.21 L314.23,138.22 L314.54,141.11 L314.86,143.00 L315.17,134.63 L315.49,134.03 L315.80,135.50 L316.11,134.60 L316.43,128.30 L316.74,129.70 L317.06,130.55 L317.37,121.22 L317.68,122.58 L318.00,115.72 L318.31,119.42 L318.63,123.60 L318.94,111.08 L319.25,107.40 L319.57,115.13 L319.88,115.12 L320.20,116.86 L320.51,113.57 L320.82,115.06 L321.14,115.28 L321.45,118.52 L321.77,114.10 L322.08,112.71 L322.39,115.18 L322.71,122.09 L323.02,122.66 L323.34,126.88 L323.65,127.00" stroke="#2ca02c" stroke-width="1.90"/>
<path d="M72.45,208.99 L73.71,207.79 L74.96,206.48 L76.22,205.07 L77.47,203.55 L78.73,201.92 L79.99,200.17 L81.24,198.30 L82.50,196.31 L83.75,194.20 L85.01,191.96 L86.27,189.60 L87.52,187.12 L88.78,184.52 L90.03,181.81 L91.29,179.00 L92.55,176.09 L93.80,173.09 L95.06,170.02 L96.31,166.89 L97.57,163.71 L98.83,160.50 L100.08,157.28 L101.34,154.06 L102.59,150.85 L103.85,147.67 L105.11,144.55 L106.36,141.48 L107.62,138.49 L108.87,135.58 L110.13,132.78 L111.39,130.07 L112.64,127.48 L113.90,125.00 L115.15,122.65 L116.41,120.42 L117.67,118.31 L118.92,116.33 L120.18,114.47 L121.43,112.73 L122.69,111.10 L123.95,109.59 L125.20,108.19 L126.46,106.89 L127.71,105.68 L128.97,104.57 L130.23,103.55 L131.48,102.61 L132.74,101.74 L133.99,100.95 L135.25,100.22 L136.51,99.55 L137.76,98.94 L139.02,98.39 L140.27,97.88 L141.53,97.42 L142.79,97.00 L144.04,96.61 L145.30,96.26 L146.55,95.95 L147.81,95.66 L149.07,95.39 L150.32,95.15 L151.58,94.94 L152.83,94.74 L154.09,94.56 L155.35,94.40 L156.60,94.25 L157.86,94.12 L159.11,94.00 L160.37,93.89 L161.63,93.79 L162.88,93.70 L164.14,93.62 L165.39,93.55 L166.65,93.48 L167.91,93.42 L169.16,93.36 L170.42,93.31 L171.67,93.27 L172.93,93.23 L174.19,93.19 L175.44,93.16 L176.70,93.13 L177.95,93.10 L179.21,93.08 L180.47,93.05 L181.72,93.03 L182.98,93.01 L184.23,93.00 L185.49,92.98 L186.75,92.97 L188.00,92.96 L189.26,92.95 L190.51,92.94 L191.77,92.93 L193.03,92.92 L194.28,92.91 L195.54,92.90 L196.79,92.90 L198.05,92.89 L199.31,92.89 L200.56,92.88 L201.82,92.88 L203.07,92.88 L204.33,92.87 L205.59,92.87 L206.84,92.87 L208.10,92.86 L209.35,92.86 L210.61,92.86 L211.87,92.86 L213.12,92.86 L214.38,92.85 L215.63,92.85 L216.89,92.85 L218.15,92.85 L219.40,92.85 L220.66,92.85 L221.91,92.85 L223.17,92.85 L224.43,92.85 L225.68,92.85 L226.94,92.85 L228.19,92.84 L229.45,92.84 L230.71,92.84 L231.96,92.84 L233.22,92.84 L234.47,92.84 L235.73,92.84 L236.99,92.84 L238.24,92.84 L239.50,92.84 L240.75,92.84 L242.01,92.84 L243.27,92.84 L244.52,92.84 L245.78,92.84 L247.03,92.84 L248.29,92.84 L249.55,92.84 L250.80,92.84 L252.06,92.84 L253.31,92.84 L254.57,92.84 L255.83,92.84 L257.08,92.84 L258.34,92.84 L259.59,92.84 L260.85,92.84 L262.11,92.84 L263.36,92.84 L264.62,92.84 L265.87,92.84 L267.13,92.84 L268.39,92.84 L269.64,92.84 L270.90,92.84 L272.15,92.84 L273.41,92.84 L274.67,92.84 L275.92,92.84 L277.18,92.84 L278.43,92.84 L279.69,92.84 L280.95,92.84 L282.20,92.84 L283.46,92.84 L284.71,92.84 L285.97,92.84 L287.23,92.84 L288.48,92.84 L289.74,92.84 L290.99,92.84 L292.25,92.84 L293.51,92.84 L294.76,92.84 L296.02,92.84 L297.27,92.84 L298.53,92.84 L299.79,92.84 L301.04,92.84 L302.30,92.84 L303.55,92.84 L304.81,92.84 L306.07,92.84 L307.32,92.84 L308.58,92.84 L309.83,92.84 L311.09,92.84 L312.35,92.84 L313.60,92.84 L314.86,92.84 L316.11,92.84 L317.37,92.84 L318.63,92.84 L319.88,92.84 L321.14,92.84 L322.39,92.84 L323.65,92.84" stroke="#1f77b4" stroke-width="1.90" stroke-dasharray="5.5 2.4"/>
<path d="M72.45,92.84 L73.71,92.84 L74.96,92.84 L76.22,92.84 L77.47,92.84 L78.73,92.84 L79.99,92.84 L81.24,92.84 L82.50,92.84 L83.75,92.84 L85.01,92.84 L86.27,92.84 L87.52,92.84 L88.78,92.84 L90.03,92.84 L91.29,92.84 L92.55,92.84 L93.80,92.84 L95.06,92.84 L96.31,92.84 L97.57,92.84 L98.83,92.84 L100.08,92.84 L101.34,92.84 L102.59,92.84 L103.85,92.84 L105.11,92.84 L106.36,92.84 L107.62,92.84 L108.87,92.84 L110.13,92.84 L111.39,92.84 L112.64,92.84 L113.90,92.84 L115.15,92.84 L116.41,92.84 L117.67,92.84 L118.92,92.84 L120.18,92.84 L121.43,92.84 L122.69,92.84 L123.95,92.84 L125.20,92.84 L126.46,92.84 L127.71,92.84 L128.97,92.84 L130.23,92.84 L131.48,92.84 L132.74,92.84 L133.99,92.84 L135.25,92.84 L136.51,92.84 L137.76,92.84 L139.02,92.84 L140.27,92.84 L141.53,92.84 L142.79,92.84 L144.04,92.84 L145.30,92.84 L146.55,92.84 L147.81,92.84 L149.07,92.84 L150.32,92.84 L151.58,92.84 L152.83,92.84 L154.09,92.84 L155.35,92.84 L156.60,92.84 L157.86,92.84 L159.11,92.84 L160.37,92.84 L161.63,92.84 L162.88,92.84 L164.14,92.84 L165.39,92.84 L166.65,92.84 L167.91,92.84 L169.16,92.84 L170.42,92.84 L171.67,92.84 L172.93,92.84 L174.19,92.84 L175.44,92.84 L176.70,92.84 L177.95,92.84 L179.21,92.84 L180.47,92.84 L181.72,92.84 L182.98,92.84 L184.23,92.84 L185.49,92.84 L186.75,92.84 L188.00,92.84 L189.26,92.84 L190.51,92.84 L191.77,92.84 L193.03,92.84 L194.28,92.84 L195.54,92.84 L196.79,92.84 L198.05,92.84 L199.31,92.84 L200.56,92.84 L201.82,92.84 L203.07,92.84 L204.33,92.84 L205.59,92.84 L206.84,92.84 L208.10,92.84 L209.35,92.84 L210.61,92.84 L211.87,92.84 L213.12,92.84 L214.38,92.84 L215.63,92.84 L216.89,92.84 L218.15,92.84 L219.40,92.84 L220.66,92.84 L221.91,92.84 L223.17,92.84 L224.43,92.84 L225.68,92.84 L226.94,92.84 L228.19,92.84 L229.45,92.84 L230.71,92.84 L231.96,92.84 L233.22,92.84 L234.47,92.84 L235.73,92.84 L236.99,92.84 L238.24,92.84 L239.50,92.84 L240.75,92.84 L242.01,92.84 L243.27,92.84 L244.52,92.84 L245.78,92.84 L247.03,92.84 L248.29,92.84 L249.55,92.84 L250.80,92.84 L252.06,92.84 L253.31,92.84 L254.57,92.84 L255.83,92.84 L257.08,92.84 L258.34,92.84 L259.59,92.84 L260.85,92.84 L262.11,92.84 L263.36,92.84 L264.62,92.84 L265.87,92.84 L267.13,92.84 L268.39,92.84 L269.64,92.84 L270.90,92.84 L272.15,92.84 L273.41,92.84 L274.67,92.84 L275.92,92.84 L277.18,92.84 L278.43,92.84 L279.69,92.84 L280.95,92.84 L282.20,92.84 L283.46,92.84 L284.71,92.84 L285.97,92.84 L287.23,92.84 L288.48,92.84 L289.74,92.84 L290.99,92.84 L292.25,92.84 L293.51,92.84 L294.76,92.84 L296.02,92.84 L297.27,92.84 L298.53,92.84 L299.79,92.84 L301.04,92.84 L302.30,92.84 L303.55,92.84 L304.81,92.84 L306.07,92.84 L307.32,92.84 L308.58,92.84 L309.83,92.84 L311.09,92.84 L312.35,92.84 L313.60,92.84 L314.86,92.84 L316.11,92.84 L317.37,92.84 L318.63,92.84 L319.88,92.84 L321.14,92.84 L322.39,92.84 L323.65,92.84" stroke="#ff7f0e" stroke-width="1.90" stroke-dasharray="5.5 2.4"/>
<path d="M72.45,28.31 L73.71,37.10 L74.96,44.40 L76.22,50.52 L77.47,55.71 L78.73,60.13 L79.99,63.94 L81.24,67.24 L82.50,70.10 L83.75,72.61 L85.01,74.80 L86.27,76.73 L87.52,78.44 L88.78,79.94 L90.03,81.28 L91.29,82.47 L92.55,83.53 L93.80,84.47 L95.06,85.31 L96.31,86.07 L97.57,86.74 L98.83,87.35 L100.08,87.89 L101.34,88.38 L102.59,88.82 L103.85,89.21 L105.11,89.56 L106.36,89.88 L107.62,90.17 L108.87,90.43 L110.13,90.66 L111.39,90.87 L112.64,91.06 L113.90,91.23 L115.15,91.39 L116.41,91.53 L117.67,91.65 L118.92,91.77 L120.18,91.87 L121.43,91.96 L122.69,92.05 L123.95,92.12 L125.20,92.19 L126.46,92.25 L127.71,92.31 L128.97,92.36 L130.23,92.41 L131.48,92.45 L132.74,92.48 L133.99,92.52 L135.25,92.55 L136.51,92.58 L137.76,92.60 L139.02,92.62 L140.27,92.65 L141.53,92.66 L142.79,92.68 L144.04,92.70 L145.30,92.71 L146.55,92.72 L147.81,92.73 L149.07,92.74 L150.32,92.75 L151.58,92.76 L152.83,92.77 L154.09,92.78 L155.35,92.78 L156.60,92.79 L157.86,92.79 L159.11,92.80 L160.37,92.80 L161.63,92.80 L162.88,92.81 L164.14,92.81 L165.39,92.81 L166.65,92.82 L167.91,92.82 L169.16,92.82 L170.42,92.82 L171.67,92.82 L172.93,92.83 L174.19,92.83 L175.44,92.83 L176.70,92.83 L177.95,92.83 L179.21,92.83 L180.47,92.83 L181.72,92.83 L182.98,92.83 L184.23,92.83 L185.49,92.83 L186.75,92.84 L188.00,92.84 L189.26,92.84 L190.51,92.84 L191.77,92.84 L193.03,92.84 L194.28,92.84 L195.54,92.84 L196.79,92.84 L198.05,92.84 L199.31,92.84 L200.56,92.84 L201.82,92.84 L203.07,92.84 L204.33,92.84 L205.59,92.84 L206.84,92.84 L208.10,92.84 L209.35,92.84 L210.61,92.84 L211.87,92.84 L213.12,92.84 L214.38,92.84 L215.63,92.84 L216.89,92.84 L218.15,92.84 L219.40,92.84 L220.66,92.84 L221.91,92.84 L223.17,92.84 L224.43,92.84 L225.68,92.84 L226.94,92.84 L228.19,92.84 L229.45,92.84 L230.71,92.84 L231.96,92.84 L233.22,92.84 L234.47,92.84 L235.73,92.84 L236.99,92.84 L238.24,92.84 L239.50,92.84 L240.75,92.84 L242.01,92.84 L243.27,92.84 L244.52,92.84 L245.78,92.84 L247.03,92.84 L248.29,92.84 L249.55,92.84 L250.80,92.84 L252.06,92.84 L253.31,92.84 L254.57,92.84 L255.83,92.84 L257.08,92.84 L258.34,92.84 L259.59,92.84 L260.85,92.84 L262.11,92.84 L263.36,92.84 L264.62,92.84 L265.87,92.84 L267.13,92.84 L268.39,92.84 L269.64,92.84 L270.90,92.84 L272.15,92.84 L273.41,92.84 L274.67,92.84 L275.92,92.84 L277.18,92.84 L278.43,92.84 L279.69,92.84 L280.95,92.84 L282.20,92.84 L283.46,92.84 L284.71,92.84 L285.97,92.84 L287.23,92.84 L288.48,92.84 L289.74,92.84 L290.99,92.84 L292.25,92.84 L293.51,92.84 L294.76,92.84 L296.02,92.84 L297.27,92.84 L298.53,92.84 L299.79,92.84 L301.04,92.84 L302.30,92.84 L303.55,92.84 L304.81,92.84 L306.07,92.84 L307.32,92.84 L308.58,92.84 L309.83,92.84 L311.09,92.84 L312.35,92.84 L313.60,92.84 L314.86,92.84 L316.11,92.84 L317.37,92.84 L318.63,92.84 L319.88,92.84 L321.14,92.84 L322.39,92.84 L323.65,92.84" stroke="#2ca02c" stroke-width="1.90" stroke-dasharray="5.5 2.4"/>
</g>
<g clip-path="url(#cb)" fill="none" stroke-linejoin="round" stroke-linecap="butt">
<path d="M444.00,208.37 L444.50,207.78 L445.01,207.14 L445.51,206.48 L446.01,205.78 L446.51,205.21 L447.02,204.79 L447.52,203.85 L448.02,203.23 L448.53,202.64 L449.03,202.07 L449.53,201.47 L450.04,200.87 L450.54,200.06 L451.04,199.36 L451.55,198.36 L452.05,197.90 L452.55,196.31 L453.05,196.07 L453.56,195.08 L454.06,194.45 L454.56,193.21 L455.07,192.33 L455.57,191.33 L456.07,190.59 L456.57,190.70 L457.08,189.54 L457.58,188.36 L458.08,187.48 L458.59,185.73 L459.09,184.69 L459.59,183.34 L460.10,182.08 L460.60,181.65 L461.10,180.34 L461.61,179.04 L462.11,177.46 L462.61,176.26 L463.11,174.83 L463.62,173.66 L464.12,173.93 L464.62,172.26 L465.13,170.72 L465.63,170.10 L466.13,169.06 L466.63,167.20 L467.14,166.11 L467.64,165.29 L468.14,164.65 L468.65,163.65 L469.15,162.28 L469.65,161.76 L470.16,160.39 L470.66,158.96 L471.16,158.73 L471.67,157.40 L472.17,156.36 L472.67,154.32 L473.17,152.89 L473.68,152.53 L474.18,150.54 L474.68,150.77 L475.19,148.54 L475.69,146.73 L476.19,146.19 L476.69,145.08 L477.20,144.26 L477.70,142.50 L478.20,140.87 L478.71,140.20 L479.21,138.36 L479.71,135.46 L480.22,135.80 L480.72,133.74 L481.22,133.19 L481.73,132.70 L482.23,130.15 L482.73,131.00 L483.23,128.24 L483.74,129.29 L484.24,126.56 L484.74,127.14 L485.25,128.10 L485.75,125.60 L486.25,123.69 L486.75,124.54 L487.26,123.18 L487.76,125.04 L488.26,122.73 L488.77,123.29 L489.27,119.42 L489.77,120.18 L490.28,121.90 L490.78,118.20 L491.28,114.86 L491.79,116.27 L492.29,114.18 L492.79,114.87 L493.29,114.30 L493.80,112.54 L494.30,110.74 L494.80,113.42 L495.31,110.16 L495.81,109.39 L496.31,111.23 L496.81,108.31 L497.32,108.93 L497.82,112.33 L498.32,108.64 L498.83,111.09 L499.33,112.49 L499.83,109.82 L500.34,111.41 L500.84,110.66 L501.34,110.36 L501.85,111.55 L502.35,112.40 L502.85,113.07 L503.35,111.29 L503.86,108.91 L504.36,111.04 L504.86,108.70 L505.37,109.99 L505.87,108.27 L506.37,108.86 L506.88,104.53 L507.38,106.18 L507.88,104.74 L508.38,103.72 L508.89,102.00 L509.39,104.25 L509.89,104.16 L510.40,104.77 L510.90,102.77 L511.40,103.18 L511.90,103.79 L512.41,102.80 L512.91,103.01 L513.41,101.52 L513.92,101.37 L514.42,101.96 L514.92,101.19 L515.43,100.39 L515.93,97.41 L516.43,100.49 L516.93,98.66 L517.44,96.16 L517.94,99.44 L518.44,98.67 L518.95,98.99 L519.45,96.91 L519.95,93.10 L520.46,94.74 L520.96,93.54 L521.46,95.99 L521.97,99.13 L522.47,97.28 L522.97,93.13 L523.47,93.82 L523.98,95.46 L524.48,94.41 L524.98,98.08 L525.49,95.05 L525.99,94.90 L526.49,97.93 L527.00,98.88 L527.50,96.92 L528.00,100.74 L528.50,98.37 L529.01,100.10 L529.51,94.79 L530.01,95.00 L530.52,95.72 L531.02,96.55 L531.52,95.94 L532.02,99.32 L532.53,98.18 L533.03,99.44 L533.53,98.86 L534.04,102.11 L534.54,98.79 L535.04,101.71 L535.55,102.18 L536.05,100.00 L536.55,98.62 L537.05,101.26 L537.56,102.22 L538.06,100.76 L538.56,101.57 L539.07,100.47 L539.57,98.35 L540.07,100.05 L540.58,100.27 L541.08,98.54 L541.58,99.00 L542.09,98.57 L542.59,98.31 L543.09,100.77 L543.59,98.60 L544.10,97.15 L544.60,99.04 L545.10,99.52 L545.61,98.00 L546.11,100.01 L546.61,100.74 L547.12,98.68 L547.62,100.81 L548.12,100.06 L548.62,99.49 L549.13,100.19 L549.63,101.37 L550.13,100.63 L550.64,101.26 L551.14,98.19 L551.64,100.70 L552.14,100.85 L552.65,96.70 L553.15,98.35 L553.65,95.38 L554.16,96.12 L554.66,97.24 L555.16,99.02 L555.67,96.42 L556.17,95.70 L556.67,96.50 L557.17,96.40 L557.68,95.00 L558.18,94.38 L558.68,97.61 L559.19,94.40 L559.69,95.51 L560.19,95.02 L560.70,93.37 L561.20,90.95 L561.70,91.47 L562.21,95.52 L562.71,94.41 L563.21,93.90 L563.71,93.28 L564.22,93.89 L564.72,94.63 L565.22,91.17 L565.73,94.13 L566.23,94.06 L566.73,93.78 L567.24,93.58 L567.74,91.40 L568.24,90.69 L568.74,90.85 L569.25,91.90 L569.75,90.75 L570.25,88.32 L570.76,89.16 L571.26,88.53 L571.76,89.86 L572.26,89.17 L572.77,87.24 L573.27,90.00 L573.77,86.31 L574.28,88.94 L574.78,87.67 L575.28,85.02 L575.79,86.88 L576.29,85.62 L576.79,87.45 L577.29,87.82 L577.80,85.91 L578.30,86.56 L578.80,89.23 L579.31,87.36 L579.81,92.76 L580.31,92.67 L580.82,92.26 L581.32,94.79 L581.82,94.42 L582.33,96.22 L582.83,96.70 L583.33,98.48 L583.83,98.46 L584.34,98.79 L584.84,100.27 L585.34,97.87 L585.85,99.79 L586.35,101.88 L586.85,96.79 L587.36,102.17 L587.86,103.36 L588.36,99.55 L588.86,100.20 L589.37,103.70 L589.87,103.82 L590.37,103.59 L590.88,100.71 L591.38,102.79 L591.88,101.40 L592.38,99.81 L592.89,95.28 L593.39,97.38 L593.89,95.44 L594.40,95.16 L594.90,89.47 L595.40,88.50 L595.91,89.30 L596.41,89.01 L596.91,84.35 L597.41,89.15 L597.92,84.87 L598.42,86.49 L598.92,85.84 L599.43,86.02 L599.93,85.41 L600.43,82.76 L600.94,82.09 L601.44,81.08 L601.94,83.46 L602.44,80.77 L602.95,79.51 L603.45,79.00 L603.95,82.54 L604.46,84.63 L604.96,80.63 L605.46,75.49 L605.97,77.34 L606.47,78.32 L606.97,75.70 L607.48,73.30 L607.98,71.76 L608.48,74.71 L608.98,71.77 L609.49,70.33 L609.99,70.65 L610.49,72.09 L611.00,69.22 L611.50,68.58 L612.00,69.72 L612.50,71.16 L613.01,72.25 L613.51,69.77 L614.01,73.08 L614.52,72.79 L615.02,72.74 L615.52,75.02 L616.03,75.47 L616.53,75.10 L617.03,75.27 L617.53,77.80 L618.04,78.24 L618.54,80.66 L619.04,80.87 L619.55,77.38 L620.05,80.15 L620.55,81.99 L621.06,80.41 L621.56,83.27 L622.06,84.93 L622.57,83.93 L623.07,85.81 L623.57,83.37 L624.07,87.49 L624.58,86.56 L625.08,89.35 L625.58,89.96 L626.09,89.39 L626.59,89.94 L627.09,89.24 L627.60,89.63 L628.10,87.83 L628.60,91.17 L629.10,88.70 L629.61,89.57 L630.11,88.53 L630.61,88.73 L631.12,85.63 L631.62,89.12 L632.12,88.05 L632.62,87.56 L633.13,87.06 L633.63,87.97 L634.13,88.38 L634.64,86.22 L635.14,90.08 L635.64,87.60 L636.15,89.42 L636.65,88.11 L637.15,90.04 L637.65,88.94 L638.16,87.01 L638.66,84.21 L639.16,85.98 L639.67,85.99 L640.17,83.73 L640.67,85.11 L641.18,88.35 L641.68,84.70 L642.18,84.28 L642.68,81.16 L643.19,79.82 L643.69,84.19 L644.19,77.84 L644.70,79.44 L645.20,80.55 L645.70,81.30 L646.21,79.31 L646.71,82.05 L647.21,83.11 L647.71,82.84 L648.22,84.66 L648.72,82.28 L649.22,82.59 L649.73,82.42 L650.23,83.05 L650.73,84.02 L651.24,80.71 L651.74,83.80 L652.24,82.24 L652.75,87.51 L653.25,86.65 L653.75,89.65 L654.25,89.00 L654.76,91.35 L655.26,95.16 L655.76,93.48 L656.27,92.76 L656.77,91.43 L657.27,94.79 L657.77,96.05 L658.28,93.75 L658.78,92.74 L659.28,94.30 L659.79,93.45 L660.29,89.85 L660.79,91.44 L661.30,90.42 L661.80,93.62 L662.30,92.74 L662.81,93.12 L663.31,95.59 L663.81,91.27 L664.31,92.17 L664.82,93.71 L665.32,91.38 L665.82,95.35 L666.33,97.17 L666.83,98.06 L667.33,102.11 L667.84,105.46 L668.34,102.05 L668.84,97.62 L669.34,97.25 L669.85,95.49 L670.35,95.00 L670.85,92.56 L671.36,92.38 L671.86,92.34 L672.36,92.21 L672.87,89.28 L673.37,89.65 L673.87,90.47 L674.37,87.59 L674.88,90.23 L675.38,91.33 L675.88,89.09 L676.39,88.91 L676.89,87.82 L677.39,90.98 L677.89,89.40 L678.40,92.38 L678.90,91.06 L679.40,90.96 L679.91,86.55 L680.41,89.04 L680.91,88.21 L681.42,88.43 L681.92,88.65 L682.42,85.53 L682.92,86.95 L683.43,83.77 L683.93,82.72 L684.43,81.45 L684.94,79.97 L685.44,79.79 L685.94,81.43 L686.45,79.32 L686.95,77.49 L687.45,79.56 L687.96,79.01 L688.46,82.87 L688.96,83.14 L689.46,81.04 L689.97,79.47 L690.47,80.66 L690.97,79.00 L691.48,80.46 L691.98,82.17 L692.48,80.89 L692.99,79.88 L693.49,80.76 L693.99,82.10 L694.49,77.77 L695.00,81.21 L695.50,81.53" stroke="#1f77b4" stroke-width="1.90"/>
<path d="M444.00,91.36 L444.50,89.85 L445.01,88.69 L445.51,87.14 L446.01,85.79 L446.51,85.01 L447.02,84.50 L447.52,84.31 L448.02,81.81 L448.53,84.28 L449.03,83.46 L449.53,85.45 L450.04,85.73 L450.54,87.84 L451.04,85.68 L451.55,88.35 L452.05,86.17 L452.55,88.25 L453.05,88.89 L453.56,92.20 L454.06,89.11 L454.56,88.08 L455.07,92.06 L455.57,89.95 L456.07,90.29 L456.57,92.22 L457.08,90.12 L457.58,91.78 L458.08,90.87 L458.59,87.61 L459.09,89.80 L459.59,90.12 L460.10,86.79 L460.60,89.93 L461.10,89.24 L461.61,89.71 L462.11,90.02 L462.61,91.27 L463.11,93.32 L463.62,89.26 L464.12,92.33 L464.62,93.29 L465.13,96.59 L465.63,92.66 L466.13,91.45 L466.63,90.93 L467.14,88.94 L467.64,91.05 L468.14,93.66 L468.65,93.65 L469.15,90.96 L469.65,92.96 L470.16,92.13 L470.66,92.94 L471.16,92.21 L471.67,88.88 L472.17,90.74 L472.67,90.06 L473.17,93.60 L473.68,88.85 L474.18,89.40 L474.68,89.13 L475.19,91.31 L475.69,92.69 L476.19,94.37 L476.69,92.95 L477.20,93.70 L477.70,94.14 L478.20,92.56 L478.71,94.45 L479.21,93.56 L479.71,94.41 L480.22,95.11 L480.72,93.43 L481.22,93.47 L481.73,90.26 L482.23,93.13 L482.73,94.20 L483.23,93.75 L483.74,94.67 L484.24,93.43 L484.74,92.97 L485.25,94.28 L485.75,93.02 L486.25,92.99 L486.75,94.35 L487.26,95.26 L487.76,94.49 L488.26,96.13 L488.77,95.10 L489.27,95.55 L489.77,93.98 L490.28,93.78 L490.78,96.33 L491.28,94.04 L491.79,93.27 L492.29,93.40 L492.79,94.98 L493.29,95.80 L493.80,97.27 L494.30,94.70 L494.80,95.10 L495.31,97.29 L495.81,95.21 L496.31,94.97 L496.81,94.79 L497.32,96.38 L497.82,94.92 L498.32,95.11 L498.83,96.62 L499.33,95.49 L499.83,95.07 L500.34,96.45 L500.84,96.88 L501.34,96.12 L501.85,102.83 L502.35,98.87 L502.85,97.90 L503.35,97.90 L503.86,97.65 L504.36,98.78 L504.86,95.48 L505.37,97.02 L505.87,95.77 L506.37,99.36 L506.88,96.74 L507.38,97.71 L507.88,99.47 L508.38,100.68 L508.89,100.62 L509.39,102.80 L509.89,104.73 L510.40,106.38 L510.90,101.55 L511.40,98.78 L511.90,99.65 L512.41,96.75 L512.91,94.92 L513.41,94.09 L513.92,92.89 L514.42,92.32 L514.92,92.37 L515.43,86.82 L515.93,86.16 L516.43,87.77 L516.93,87.66 L517.44,91.59 L517.94,90.49 L518.44,88.54 L518.95,92.31 L519.45,91.99 L519.95,89.21 L520.46,92.47 L520.96,88.03 L521.46,89.21 L521.97,90.23 L522.47,90.63 L522.97,91.25 L523.47,88.88 L523.98,86.30 L524.48,84.53 L524.98,84.44 L525.49,84.02 L525.99,84.78 L526.49,81.53 L527.00,85.08 L527.50,84.04 L528.00,84.80 L528.50,85.97 L529.01,85.17 L529.51,84.10 L530.01,81.18 L530.52,80.16 L531.02,82.13 L531.52,85.14 L532.02,85.20 L532.53,84.78 L533.03,85.76 L533.53,87.59 L534.04,86.87 L534.54,87.92 L535.04,86.56 L535.55,86.29 L536.05,84.58 L536.55,82.91 L537.05,83.01 L537.56,82.83 L538.06,84.66 L538.56,84.39 L539.07,84.59 L539.57,85.85 L540.07,84.56 L540.58,84.91 L541.08,87.38 L541.58,87.90 L542.09,88.39 L542.59,90.84 L543.09,92.87 L543.59,92.17 L544.10,95.46 L544.60,95.82 L545.10,94.41 L545.61,95.06 L546.11,92.06 L546.61,95.44 L547.12,92.96 L547.62,93.37 L548.12,91.89 L548.62,95.20 L549.13,95.46 L549.63,94.80 L550.13,94.65 L550.64,96.19 L551.14,95.76 L551.64,96.95 L552.14,91.97 L552.65,94.32 L553.15,94.47 L553.65,96.21 L554.16,95.20 L554.66,94.39 L555.16,95.64 L555.67,94.32 L556.17,92.48 L556.67,94.49 L557.17,96.50 L557.68,97.72 L558.18,97.83 L558.68,97.84 L559.19,97.21 L559.69,99.45 L560.19,98.70 L560.70,100.18 L561.20,100.76 L561.70,99.24 L562.21,96.97 L562.71,100.46 L563.21,99.85 L563.71,94.75 L564.22,93.36 L564.72,90.34 L565.22,89.98 L565.73,87.50 L566.23,89.79 L566.73,91.67 L567.24,89.02 L567.74,87.78 L568.24,88.60 L568.74,88.47 L569.25,87.43 L569.75,88.69 L570.25,88.38 L570.76,88.53 L571.26,84.58 L571.76,86.79 L572.26,88.09 L572.77,88.10 L573.27,85.71 L573.77,89.59 L574.28,87.15 L574.78,89.69 L575.28,93.51 L575.79,91.00 L576.29,92.27 L576.79,90.60 L577.29,95.23 L577.80,95.55 L578.30,95.80 L578.80,94.87 L579.31,97.49 L579.81,99.20 L580.31,97.33 L580.82,99.48 L581.32,103.18 L581.82,102.21 L582.33,104.30 L582.83,102.66 L583.33,104.86 L583.83,103.67 L584.34,106.14 L584.84,105.74 L585.34,105.70 L585.85,107.99 L586.35,107.80 L586.85,107.24 L587.36,110.71 L587.86,109.94 L588.36,110.55 L588.86,107.48 L589.37,107.49 L589.87,106.22 L590.37,107.03 L590.88,106.37 L591.38,107.02 L591.88,107.06 L592.38,104.46 L592.89,105.16 L593.39,102.21 L593.89,101.62 L594.40,102.83 L594.90,102.28 L595.40,104.22 L595.91,103.50 L596.41,103.89 L596.91,100.44 L597.41,100.09 L597.92,100.48 L598.42,96.47 L598.92,97.58 L599.43,98.51 L599.93,95.71 L600.43,95.37 L600.94,92.67 L601.44,96.04 L601.94,97.14 L602.44,97.19 L602.95,96.94 L603.45,99.22 L603.95,97.86 L604.46,96.82 L604.96,96.53 L605.46,95.76 L605.97,96.89 L606.47,97.62 L606.97,97.92 L607.48,98.91 L607.98,97.52 L608.48,102.28 L608.98,99.14 L609.49,98.07 L609.99,99.46 L610.49,99.51 L611.00,99.93 L611.50,100.84 L612.00,100.65 L612.50,99.69 L613.01,101.22 L613.51,97.48 L614.01,100.20 L614.52,100.18 L615.02,99.83 L615.52,99.13 L616.03,102.03 L616.53,98.21 L617.03,95.64 L617.53,95.08 L618.04,96.61 L618.54,95.72 L619.04,95.41 L619.55,96.35 L620.05,96.23 L620.55,95.41 L621.06,95.57 L621.56,96.16 L622.06,97.67 L622.57,96.31 L623.07,98.47 L623.57,95.69 L624.07,96.11 L624.58,97.89 L625.08,95.82 L625.58,93.32 L626.09,93.09 L626.59,90.90 L627.09,93.81 L627.60,91.94 L628.10,91.14 L628.60,92.32 L629.10,89.11 L629.61,86.62 L630.11,85.74 L630.61,88.25 L631.12,90.44 L631.62,91.42 L632.12,89.93 L632.62,90.37 L633.13,92.12 L633.63,93.06 L634.13,93.98 L634.64,95.07 L635.14,95.78 L635.64,98.24 L636.15,97.53 L636.65,94.46 L637.15,96.08 L637.65,92.71 L638.16,94.21 L638.66,95.89 L639.16,95.46 L639.67,95.26 L640.17,96.83 L640.67,95.74 L641.18,97.43 L641.68,93.87 L642.18,94.97 L642.68,93.32 L643.19,96.18 L643.69,95.64 L644.19,92.28 L644.70,93.58 L645.20,92.41 L645.70,91.69 L646.21,90.28 L646.71,92.17 L647.21,89.15 L647.71,88.60 L648.22,91.24 L648.72,93.87 L649.22,93.71 L649.73,91.50 L650.23,93.95 L650.73,93.10 L651.24,94.61 L651.74,94.04 L652.24,97.40 L652.75,97.18 L653.25,96.15 L653.75,92.93 L654.25,95.61 L654.76,94.59 L655.26,96.71 L655.76,96.61 L656.27,94.39 L656.77,94.85 L657.27,95.15 L657.77,95.51 L658.28,97.99 L658.78,95.11 L659.28,96.59 L659.79,96.11 L660.29,96.49 L660.79,99.72 L661.30,101.20 L661.80,100.30 L662.30,99.57 L662.81,97.99 L663.31,99.25 L663.81,99.29 L664.31,102.80 L664.82,102.77 L665.32,101.64 L665.82,100.92 L666.33,102.68 L666.83,100.00 L667.33,98.78 L667.84,99.50 L668.34,100.07 L668.84,100.05 L669.34,100.02 L669.85,99.22 L670.35,96.73 L670.85,96.98 L671.36,98.87 L671.86,96.02 L672.36,94.37 L672.87,93.61 L673.37,94.25 L673.87,94.43 L674.37,94.92 L674.88,94.30 L675.38,93.85 L675.88,92.36 L676.39,92.76 L676.89,91.25 L677.39,92.65 L677.89,95.24 L678.40,94.89 L678.90,95.27 L679.40,93.89 L679.91,90.80 L680.41,93.01 L680.91,93.31 L681.42,91.50 L681.92,89.64 L682.42,89.30 L682.92,87.15 L683.43,88.84 L683.93,89.33 L684.43,87.41 L684.94,88.74 L685.44,88.21 L685.94,85.81 L686.45,84.21 L686.95,85.23 L687.45,84.74 L687.96,85.11 L688.46,84.67 L688.96,87.74 L689.46,84.54 L689.97,83.56 L690.47,83.14 L690.97,82.29 L691.48,85.07 L691.98,81.66 L692.48,83.06 L692.99,86.76 L693.49,83.79 L693.99,81.34 L694.49,80.00 L695.00,83.94 L695.50,82.46" stroke="#ff7f0e" stroke-width="1.90"/>
<path d="M444.00,27.18 L444.50,29.68 L445.01,34.70 L445.51,36.32 L446.01,36.65 L446.51,36.65 L447.02,44.95 L447.52,47.50 L448.02,53.82 L448.53,50.03 L449.03,57.84 L449.53,56.32 L450.04,59.35 L450.54,58.74 L451.04,62.08 L451.55,63.47 L452.05,61.99 L452.55,62.39 L453.05,63.08 L453.56,66.12 L454.06,65.42 L454.56,64.86 L455.07,67.55 L455.57,66.25 L456.07,66.21 L456.57,69.97 L457.08,72.84 L457.58,73.09 L458.08,72.73 L458.59,76.10 L459.09,76.86 L459.59,81.20 L460.10,80.12 L460.60,80.11 L461.10,81.73 L461.61,80.89 L462.11,80.52 L462.61,76.93 L463.11,79.40 L463.62,81.58 L464.12,79.30 L464.62,80.74 L465.13,80.05 L465.63,82.47 L466.13,81.43 L466.63,79.14 L467.14,75.63 L467.64,77.51 L468.14,80.19 L468.65,76.81 L469.15,76.60 L469.65,77.88 L470.16,75.09 L470.66,75.79 L471.16,74.08 L471.67,73.11 L472.17,73.74 L472.67,75.54 L473.17,77.52 L473.68,78.76 L474.18,80.42 L474.68,79.32 L475.19,82.03 L475.69,82.94 L476.19,80.79 L476.69,81.36 L477.20,82.19 L477.70,81.53 L478.20,84.05 L478.71,84.07 L479.21,83.42 L479.71,84.28 L480.22,84.66 L480.72,83.39 L481.22,85.80 L481.73,84.76 L482.23,82.00 L482.73,83.49 L483.23,84.84 L483.74,84.99 L484.24,85.76 L484.74,83.87 L485.25,83.07 L485.75,83.94 L486.25,83.20 L486.75,83.20 L487.26,85.29 L487.76,87.43 L488.26,85.56 L488.77,86.85 L489.27,84.88 L489.77,84.32 L490.28,85.69 L490.78,83.80 L491.28,81.22 L491.79,86.42 L492.29,82.99 L492.79,85.34 L493.29,86.44 L493.80,87.32 L494.30,85.99 L494.80,84.73 L495.31,84.16 L495.81,85.92 L496.31,86.47 L496.81,88.32 L497.32,87.31 L497.82,86.51 L498.32,88.57 L498.83,85.75 L499.33,88.46 L499.83,88.43 L500.34,86.75 L500.84,89.67 L501.34,87.49 L501.85,86.17 L502.35,88.56 L502.85,88.23 L503.35,86.31 L503.86,85.98 L504.36,87.20 L504.86,88.51 L505.37,90.08 L505.87,87.70 L506.37,88.83 L506.88,88.31 L507.38,88.48 L507.88,90.26 L508.38,87.90 L508.89,91.63 L509.39,89.35 L509.89,89.06 L510.40,87.73 L510.90,88.51 L511.40,88.16 L511.90,86.20 L512.41,88.68 L512.91,89.12 L513.41,88.42 L513.92,89.27 L514.42,92.73 L514.92,89.41 L515.43,87.05 L515.93,87.86 L516.43,89.26 L516.93,91.50 L517.44,87.64 L517.94,89.28 L518.44,88.78 L518.95,89.08 L519.45,90.12 L519.95,91.25 L520.46,93.00 L520.96,92.82 L521.46,92.55 L521.97,94.50 L522.47,93.86 L522.97,95.29 L523.47,95.01 L523.98,94.98 L524.48,95.12 L524.98,92.10 L525.49,96.16 L525.99,95.76 L526.49,95.89 L527.00,99.33 L527.50,96.88 L528.00,102.76 L528.50,100.71 L529.01,105.28 L529.51,103.02 L530.01,103.99 L530.52,104.06 L531.02,103.37 L531.52,104.47 L532.02,106.35 L532.53,107.18 L533.03,105.92 L533.53,106.87 L534.04,105.81 L534.54,104.39 L535.04,105.85 L535.55,106.55 L536.05,107.22 L536.55,111.15 L537.05,110.97 L537.56,111.90 L538.06,110.54 L538.56,108.30 L539.07,108.54 L539.57,107.95 L540.07,107.50 L540.58,107.94 L541.08,108.96 L541.58,107.41 L542.09,106.43 L542.59,110.38 L543.09,109.85 L543.59,108.95 L544.10,110.21 L544.60,108.01 L545.10,109.27 L545.61,110.92 L546.11,110.53 L546.61,111.31 L547.12,111.47 L547.62,113.64 L548.12,113.83 L548.62,113.58 L549.13,113.22 L549.63,114.45 L550.13,116.23 L550.64,115.34 L551.14,116.17 L551.64,116.71 L552.14,115.27 L552.65,115.22 L553.15,114.80 L553.65,113.63 L554.16,115.49 L554.66,112.83 L555.16,111.60 L555.67,113.43 L556.17,109.55 L556.67,110.18 L557.17,108.37 L557.68,108.71 L558.18,107.54 L558.68,103.95 L559.19,105.12 L559.69,101.41 L560.19,100.78 L560.70,98.78 L561.20,98.43 L561.70,98.65 L562.21,97.84 L562.71,96.33 L563.21,96.50 L563.71,96.94 L564.22,100.13 L564.72,97.70 L565.22,101.08 L565.73,101.77 L566.23,99.90 L566.73,101.15 L567.24,103.79 L567.74,102.21 L568.24,105.51 L568.74,100.65 L569.25,95.17 L569.75,96.19 L570.25,96.40 L570.76,96.11 L571.26,96.80 L571.76,96.87 L572.26,95.96 L572.77,98.36 L573.27,95.92 L573.77,94.25 L574.28,93.68 L574.78,91.95 L575.28,92.17 L575.79,94.72 L576.29,92.51 L576.79,92.55 L577.29,89.37 L577.80,86.84 L578.30,86.64 L578.80,85.91 L579.31,91.80 L579.81,87.10 L580.31,89.00 L580.82,90.65 L581.32,91.19 L581.82,92.28 L582.33,94.40 L582.83,95.97 L583.33,94.79 L583.83,98.84 L584.34,95.26 L584.84,95.95 L585.34,95.89 L585.85,94.64 L586.35,95.60 L586.85,96.40 L587.36,97.11 L587.86,97.74 L588.36,97.23 L588.86,99.98 L589.37,101.37 L589.87,99.90 L590.37,101.38 L590.88,100.47 L591.38,96.98 L591.88,98.10 L592.38,98.18 L592.89,97.59 L593.39,99.07 L593.89,98.02 L594.40,97.65 L594.90,97.70 L595.40,96.59 L595.91,96.36 L596.41,97.97 L596.91,93.01 L597.41,94.24 L597.92,95.70 L598.42,95.82 L598.92,94.95 L599.43,93.41 L599.93,93.67 L600.43,96.45 L600.94,95.68 L601.44,96.22 L601.94,93.63 L602.44,92.46 L602.95,93.02 L603.45,94.33 L603.95,92.39 L604.46,95.82 L604.96,93.72 L605.46,94.75 L605.97,94.20 L606.47,94.89 L606.97,92.17 L607.48,96.47 L607.98,94.62 L608.48,95.06 L608.98,92.93 L609.49,93.60 L609.99,94.01 L610.49,94.49 L611.00,95.64 L611.50,96.52 L612.00,97.44 L612.50,94.42 L613.01,92.56 L613.51,93.33 L614.01,94.16 L614.52,92.21 L615.02,95.45 L615.52,93.66 L616.03,94.78 L616.53,94.82 L617.03,93.21 L617.53,94.07 L618.04,93.64 L618.54,92.09 L619.04,94.33 L619.55,92.75 L620.05,92.94 L620.55,92.94 L621.06,95.23 L621.56,92.01 L622.06,93.55 L622.57,92.66 L623.07,93.63 L623.57,91.55 L624.07,93.82 L624.58,93.24 L625.08,92.78 L625.58,92.44 L626.09,93.71 L626.59,92.17 L627.09,93.34 L627.60,91.93 L628.10,93.47 L628.60,93.58 L629.10,93.01 L629.61,94.64 L630.11,95.31 L630.61,95.97 L631.12,96.35 L631.62,94.76 L632.12,95.42 L632.62,93.96 L633.13,95.77 L633.63,96.53 L634.13,94.97 L634.64,93.63 L635.14,90.63 L635.64,92.84 L636.15,94.12 L636.65,95.09 L637.15,92.12 L637.65,94.22 L638.16,93.23 L638.66,91.38 L639.16,93.16 L639.67,95.56 L640.17,92.43 L640.67,95.71 L641.18,92.46 L641.68,92.38 L642.18,93.91 L642.68,95.86 L643.19,94.74 L643.69,91.03 L644.19,94.07 L644.70,94.61 L645.20,93.81 L645.70,92.11 L646.21,93.43 L646.71,92.73 L647.21,92.80 L647.71,93.44 L648.22,92.94 L648.72,93.11 L649.22,95.45 L649.73,94.91 L650.23,94.45 L650.73,93.59 L651.24,93.89 L651.74,95.61 L652.24,96.57 L652.75,92.78 L653.25,94.07 L653.75,94.48 L654.25,95.38 L654.76,96.02 L655.26,93.30 L655.76,95.51 L656.27,93.45 L656.77,93.02 L657.27,92.81 L657.77,92.02 L658.28,94.19 L658.78,96.45 L659.28,94.53 L659.79,93.97 L660.29,93.77 L660.79,91.39 L661.30,94.91 L661.80,91.35 L662.30,91.31 L662.81,90.02 L663.31,92.43 L663.81,90.07 L664.31,93.02 L664.82,92.07 L665.32,90.40 L665.82,92.17 L666.33,89.42 L666.83,90.22 L667.33,92.22 L667.84,87.74 L668.34,91.97 L668.84,86.67 L669.34,91.56 L669.85,89.57 L670.35,88.55 L670.85,89.39 L671.36,90.63 L671.86,86.44 L672.36,85.39 L672.87,85.97 L673.37,89.76 L673.87,88.85 L674.37,89.40 L674.88,88.84 L675.38,90.34 L675.88,92.18 L676.39,92.90 L676.89,91.00 L677.39,94.04 L677.89,93.93 L678.40,95.98 L678.90,90.88 L679.40,92.00 L679.91,94.56 L680.41,87.54 L680.91,86.10 L681.42,86.27 L681.92,87.02 L682.42,86.31 L682.92,88.08 L683.43,87.08 L683.93,87.64 L684.43,87.45 L684.94,88.76 L685.44,88.83 L685.94,91.07 L686.45,91.87 L686.95,91.51 L687.45,91.27 L687.96,91.11 L688.46,90.62 L688.96,92.14 L689.46,93.74 L689.97,92.40 L690.47,92.45 L690.97,96.48 L691.48,96.86 L691.98,95.18 L692.48,94.53 L692.99,96.47 L693.49,94.05 L693.99,95.32 L694.49,93.16 L695.00,96.39 L695.50,94.79" stroke="#2ca02c" stroke-width="1.90"/>
<path d="M444.00,208.11 L445.26,206.91 L446.51,205.60 L447.77,204.19 L449.03,202.68 L450.29,201.05 L451.55,199.30 L452.80,197.44 L454.06,195.45 L455.32,193.34 L456.57,191.11 L457.83,188.75 L459.09,186.27 L460.35,183.68 L461.61,180.97 L462.86,178.16 L464.12,175.25 L465.38,172.26 L466.63,169.20 L467.89,166.07 L469.15,162.90 L470.41,159.69 L471.67,156.48 L472.92,153.26 L474.18,150.05 L475.44,146.88 L476.69,143.76 L477.95,140.70 L479.21,137.71 L480.47,134.81 L481.73,132.01 L482.98,129.31 L484.24,126.72 L485.50,124.25 L486.75,121.90 L488.01,119.67 L489.27,117.57 L490.53,115.59 L491.79,113.73 L493.04,111.99 L494.30,110.37 L495.56,108.86 L496.81,107.45 L498.07,106.15 L499.33,104.95 L500.59,103.84 L501.85,102.82 L503.10,101.88 L504.36,101.02 L505.62,100.22 L506.88,99.50 L508.13,98.83 L509.39,98.23 L510.65,97.67 L511.90,97.16 L513.16,96.70 L514.42,96.28 L515.68,95.90 L516.93,95.55 L518.19,95.23 L519.45,94.94 L520.71,94.68 L521.97,94.44 L523.22,94.23 L524.48,94.03 L525.74,93.85 L527.00,93.69 L528.25,93.54 L529.51,93.41 L530.77,93.29 L532.02,93.18 L533.28,93.08 L534.54,92.99 L535.80,92.91 L537.05,92.84 L538.31,92.77 L539.57,92.71 L540.83,92.65 L542.09,92.60 L543.34,92.56 L544.60,92.52 L545.86,92.48 L547.12,92.45 L548.37,92.42 L549.63,92.39 L550.89,92.37 L552.14,92.34 L553.40,92.32 L554.66,92.30 L555.92,92.29 L557.17,92.27 L558.43,92.26 L559.69,92.25 L560.95,92.24 L562.21,92.23 L563.46,92.22 L564.72,92.21 L565.98,92.20 L567.24,92.19 L568.49,92.19 L569.75,92.18 L571.01,92.18 L572.26,92.17 L573.52,92.17 L574.78,92.17 L576.04,92.16 L577.30,92.16 L578.55,92.16 L579.81,92.15 L581.07,92.15 L582.33,92.15 L583.58,92.15 L584.84,92.15 L586.10,92.14 L587.36,92.14 L588.61,92.14 L589.87,92.14 L591.13,92.14 L592.38,92.14 L593.64,92.14 L594.90,92.14 L596.16,92.14 L597.41,92.14 L598.67,92.14 L599.93,92.13 L601.19,92.13 L602.45,92.13 L603.70,92.13 L604.96,92.13 L606.22,92.13 L607.48,92.13 L608.73,92.13 L609.99,92.13 L611.25,92.13 L612.50,92.13 L613.76,92.13 L615.02,92.13 L616.28,92.13 L617.53,92.13 L618.79,92.13 L620.05,92.13 L621.31,92.13 L622.57,92.13 L623.82,92.13 L625.08,92.13 L626.34,92.13 L627.60,92.13 L628.85,92.13 L630.11,92.13 L631.37,92.13 L632.62,92.13 L633.88,92.13 L635.14,92.13 L636.40,92.13 L637.65,92.13 L638.91,92.13 L640.17,92.13 L641.43,92.13 L642.68,92.13 L643.94,92.13 L645.20,92.13 L646.46,92.13 L647.71,92.13 L648.97,92.13 L650.23,92.13 L651.49,92.13 L652.75,92.13 L654.00,92.13 L655.26,92.13 L656.52,92.13 L657.77,92.13 L659.03,92.13 L660.29,92.13 L661.55,92.13 L662.81,92.13 L664.06,92.13 L665.32,92.13 L666.58,92.13 L667.84,92.13 L669.09,92.13 L670.35,92.13 L671.61,92.13 L672.87,92.13 L674.12,92.13 L675.38,92.13 L676.64,92.13 L677.89,92.13 L679.15,92.13 L680.41,92.13 L681.67,92.13 L682.92,92.13 L684.18,92.13 L685.44,92.13 L686.70,92.13 L687.96,92.13 L689.21,92.13 L690.47,92.13 L691.73,92.13 L692.99,92.13 L694.24,92.13 L695.50,92.13" stroke="#1f77b4" stroke-width="1.90" stroke-dasharray="5.5 2.4"/>
<path d="M444.00,92.13 L445.26,92.13 L446.51,92.13 L447.77,92.13 L449.03,92.13 L450.29,92.13 L451.55,92.13 L452.80,92.13 L454.06,92.13 L455.32,92.13 L456.57,92.13 L457.83,92.13 L459.09,92.13 L460.35,92.13 L461.61,92.13 L462.86,92.13 L464.12,92.13 L465.38,92.13 L466.63,92.13 L467.89,92.13 L469.15,92.13 L470.41,92.13 L471.67,92.13 L472.92,92.13 L474.18,92.13 L475.44,92.13 L476.69,92.13 L477.95,92.13 L479.21,92.13 L480.47,92.13 L481.73,92.13 L482.98,92.13 L484.24,92.13 L485.50,92.13 L486.75,92.13 L488.01,92.13 L489.27,92.13 L490.53,92.13 L491.79,92.13 L493.04,92.13 L494.30,92.13 L495.56,92.13 L496.81,92.13 L498.07,92.13 L499.33,92.13 L500.59,92.13 L501.85,92.13 L503.10,92.13 L504.36,92.13 L505.62,92.13 L506.88,92.13 L508.13,92.13 L509.39,92.13 L510.65,92.13 L511.90,92.13 L513.16,92.13 L514.42,92.13 L515.68,92.13 L516.93,92.13 L518.19,92.13 L519.45,92.13 L520.71,92.13 L521.97,92.13 L523.22,92.13 L524.48,92.13 L525.74,92.13 L527.00,92.13 L528.25,92.13 L529.51,92.13 L530.77,92.13 L532.02,92.13 L533.28,92.13 L534.54,92.13 L535.80,92.13 L537.05,92.13 L538.31,92.13 L539.57,92.13 L540.83,92.13 L542.09,92.13 L543.34,92.13 L544.60,92.13 L545.86,92.13 L547.12,92.13 L548.37,92.13 L549.63,92.13 L550.89,92.13 L552.14,92.13 L553.40,92.13 L554.66,92.13 L555.92,92.13 L557.17,92.13 L558.43,92.13 L559.69,92.13 L560.95,92.13 L562.21,92.13 L563.46,92.13 L564.72,92.13 L565.98,92.13 L567.24,92.13 L568.49,92.13 L569.75,92.13 L571.01,92.13 L572.26,92.13 L573.52,92.13 L574.78,92.13 L576.04,92.13 L577.30,92.13 L578.55,92.13 L579.81,92.13 L581.07,92.13 L582.33,92.13 L583.58,92.13 L584.84,92.13 L586.10,92.13 L587.36,92.13 L588.61,92.13 L589.87,92.13 L591.13,92.13 L592.38,92.13 L593.64,92.13 L594.90,92.13 L596.16,92.13 L597.41,92.13 L598.67,92.13 L599.93,92.13 L601.19,92.13 L602.45,92.13 L603.70,92.13 L604.96,92.13 L606.22,92.13 L607.48,92.13 L608.73,92.13 L609.99,92.13 L611.25,92.13 L612.50,92.13 L613.76,92.13 L615.02,92.13 L616.28,92.13 L617.53,92.13 L618.79,92.13 L620.05,92.13 L621.31,92.13 L622.57,92.13 L623.82,92.13 L625.08,92.13 L626.34,92.13 L627.60,92.13 L628.85,92.13 L630.11,92.13 L631.37,92.13 L632.62,92.13 L633.88,92.13 L635.14,92.13 L636.40,92.13 L637.65,92.13 L638.91,92.13 L640.17,92.13 L641.43,92.13 L642.68,92.13 L643.94,92.13 L645.20,92.13 L646.46,92.13 L647.71,92.13 L648.97,92.13 L650.23,92.13 L651.49,92.13 L652.75,92.13 L654.00,92.13 L655.26,92.13 L656.52,92.13 L657.77,92.13 L659.03,92.13 L660.29,92.13 L661.55,92.13 L662.81,92.13 L664.06,92.13 L665.32,92.13 L666.58,92.13 L667.84,92.13 L669.09,92.13 L670.35,92.13 L671.61,92.13 L672.87,92.13 L674.12,92.13 L675.38,92.13 L676.64,92.13 L677.89,92.13 L679.15,92.13 L680.41,92.13 L681.67,92.13 L682.92,92.13 L684.18,92.13 L685.44,92.13 L686.70,92.13 L687.96,92.13 L689.21,92.13 L690.47,92.13 L691.73,92.13 L692.99,92.13 L694.24,92.13 L695.50,92.13" stroke="#ff7f0e" stroke-width="1.90" stroke-dasharray="5.5 2.4"/>
<path d="M444.00,27.70 L445.26,36.47 L446.51,43.76 L447.77,49.87 L449.03,55.05 L450.29,59.47 L451.55,63.28 L452.80,66.57 L454.06,69.43 L455.32,71.93 L456.57,74.12 L457.83,76.05 L459.09,77.75 L460.35,79.25 L461.61,80.59 L462.86,81.77 L464.12,82.83 L465.38,83.77 L466.63,84.62 L467.89,85.37 L469.15,86.04 L470.41,86.65 L471.67,87.19 L472.92,87.67 L474.18,88.11 L475.44,88.50 L476.69,88.86 L477.95,89.18 L479.21,89.46 L480.47,89.72 L481.73,89.96 L482.98,90.17 L484.24,90.35 L485.50,90.53 L486.75,90.68 L488.01,90.82 L489.27,90.95 L490.53,91.06 L491.79,91.16 L493.04,91.25 L494.30,91.34 L495.56,91.41 L496.81,91.48 L498.07,91.54 L499.33,91.60 L500.59,91.65 L501.85,91.70 L503.10,91.74 L504.36,91.78 L505.62,91.81 L506.88,91.84 L508.13,91.87 L509.39,91.89 L510.65,91.92 L511.90,91.94 L513.16,91.95 L514.42,91.97 L515.68,91.99 L516.93,92.00 L518.19,92.01 L519.45,92.02 L520.71,92.03 L521.97,92.04 L523.22,92.05 L524.48,92.06 L525.74,92.07 L527.00,92.07 L528.25,92.08 L529.51,92.08 L530.77,92.09 L532.02,92.09 L533.28,92.09 L534.54,92.10 L535.80,92.10 L537.05,92.10 L538.31,92.11 L539.57,92.11 L540.83,92.11 L542.09,92.11 L543.34,92.11 L544.60,92.12 L545.86,92.12 L547.12,92.12 L548.37,92.12 L549.63,92.12 L550.89,92.12 L552.14,92.12 L553.40,92.12 L554.66,92.12 L555.92,92.12 L557.17,92.12 L558.43,92.13 L559.69,92.13 L560.95,92.13 L562.21,92.13 L563.46,92.13 L564.72,92.13 L565.98,92.13 L567.24,92.13 L568.49,92.13 L569.75,92.13 L571.01,92.13 L572.26,92.13 L573.52,92.13 L574.78,92.13 L576.04,92.13 L577.30,92.13 L578.55,92.13 L579.81,92.13 L581.07,92.13 L582.33,92.13 L583.58,92.13 L584.84,92.13 L586.10,92.13 L587.36,92.13 L588.61,92.13 L589.87,92.13 L591.13,92.13 L592.38,92.13 L593.64,92.13 L594.90,92.13 L596.16,92.13 L597.41,92.13 L598.67,92.13 L599.93,92.13 L601.19,92.13 L602.45,92.13 L603.70,92.13 L604.96,92.13 L606.22,92.13 L607.48,92.13 L608.73,92.13 L609.99,92.13 L611.25,92.13 L612.50,92.13 L613.76,92.13 L615.02,92.13 L616.28,92.13 L617.53,92.13 L618.79,92.13 L620.05,92.13 L621.31,92.13 L622.57,92.13 L623.82,92.13 L625.08,92.13 L626.34,92.13 L627.60,92.13 L628.85,92.13 L630.11,92.13 L631.37,92.13 L632.62,92.13 L633.88,92.13 L635.14,92.13 L636.40,92.13 L637.65,92.13 L638.91,92.13 L640.17,92.13 L641.43,92.13 L642.68,92.13 L643.94,92.13 L645.20,92.13 L646.46,92.13 L647.71,92.13 L648.97,92.13 L650.23,92.13 L651.49,92.13 L652.75,92.13 L654.00,92.13 L655.26,92.13 L656.52,92.13 L657.77,92.13 L659.03,92.13 L660.29,92.13 L661.55,92.13 L662.81,92.13 L664.06,92.13 L665.32,92.13 L666.58,92.13 L667.84,92.13 L669.09,92.13 L670.35,92.13 L671.61,92.13 L672.87,92.13 L674.12,92.13 L675.38,92.13 L676.64,92.13 L677.89,92.13 L679.15,92.13 L680.41,92.13 L681.67,92.13 L682.92,92.13 L684.18,92.13 L685.44,92.13 L686.70,92.13 L687.96,92.13 L689.21,92.13 L690.47,92.13 L691.73,92.13 L692.99,92.13 L694.24,92.13 L695.50,92.13" stroke="#2ca02c" stroke-width="1.90" stroke-dasharray="5.5 2.4"/>
</g>
<g stroke="#2a2a2a" fill="none">
<rect x="59.50" y="21.90" width="277.00" height="206.80" stroke-width="1" stroke="#3a3a3a"/>
<line x1="59.89" y1="228.70" x2="59.89" y2="232.40" stroke-width="0.9"/>
<line x1="72.45" y1="228.70" x2="72.45" y2="236.00" stroke-width="1.0"/>
<line x1="85.01" y1="228.70" x2="85.01" y2="232.40" stroke-width="0.9"/>
<line x1="97.57" y1="228.70" x2="97.57" y2="232.40" stroke-width="0.9"/>
<line x1="110.13" y1="228.70" x2="110.13" y2="232.40" stroke-width="0.9"/>
<line x1="122.69" y1="228.70" x2="122.69" y2="232.40" stroke-width="0.9"/>
<line x1="135.25" y1="228.70" x2="135.25" y2="236.00" stroke-width="1.0"/>
<line x1="147.81" y1="228.70" x2="147.81" y2="232.40" stroke-width="0.9"/>
<line x1="160.37" y1="228.70" x2="160.37" y2="232.40" stroke-width="0.9"/>
<line x1="172.93" y1="228.70" x2="172.93" y2="232.40" stroke-width="0.9"/>
<line x1="185.49" y1="228.70" x2="185.49" y2="232.40" stroke-width="0.9"/>
<line x1="198.05" y1="228.70" x2="198.05" y2="236.00" stroke-width="1.0"/>
<line x1="210.61" y1="228.70" x2="210.61" y2="232.40" stroke-width="0.9"/>
<line x1="223.17" y1="228.70" x2="223.17" y2="232.40" stroke-width="0.9"/>
<line x1="235.73" y1="228.70" x2="235.73" y2="232.40" stroke-width="0.9"/>
<line x1="248.29" y1="228.70" x2="248.29" y2="232.40" stroke-width="0.9"/>
<line x1="260.85" y1="228.70" x2="260.85" y2="236.00" stroke-width="1.0"/>
<line x1="273.41" y1="228.70" x2="273.41" y2="232.40" stroke-width="0.9"/>
<line x1="285.97" y1="228.70" x2="285.97" y2="232.40" stroke-width="0.9"/>
<line x1="298.53" y1="228.70" x2="298.53" y2="232.40" stroke-width="0.9"/>
<line x1="311.09" y1="228.70" x2="311.09" y2="232.40" stroke-width="0.9"/>
<line x1="323.65" y1="228.70" x2="323.65" y2="236.00" stroke-width="1.0"/>
<line x1="336.21" y1="228.70" x2="336.21" y2="232.40" stroke-width="0.9"/>
<line x1="52.00" y1="221.90" x2="59.50" y2="221.90" stroke-width="1.0"/>
<line x1="55.80" y1="208.99" x2="59.50" y2="208.99" stroke-width="0.9"/>
<line x1="55.80" y1="196.09" x2="59.50" y2="196.09" stroke-width="0.9"/>
<line x1="55.80" y1="183.18" x2="59.50" y2="183.18" stroke-width="0.9"/>
<line x1="55.80" y1="170.28" x2="59.50" y2="170.28" stroke-width="0.9"/>
<line x1="52.00" y1="157.37" x2="59.50" y2="157.37" stroke-width="1.0"/>
<line x1="55.80" y1="144.46" x2="59.50" y2="144.46" stroke-width="0.9"/>
<line x1="55.80" y1="131.56" x2="59.50" y2="131.56" stroke-width="0.9"/>
<line x1="55.80" y1="118.65" x2="59.50" y2="118.65" stroke-width="0.9"/>
<line x1="55.80" y1="105.75" x2="59.50" y2="105.75" stroke-width="0.9"/>
<line x1="52.00" y1="92.84" x2="59.50" y2="92.84" stroke-width="1.0"/>
<line x1="55.80" y1="79.93" x2="59.50" y2="79.93" stroke-width="0.9"/>
<line x1="55.80" y1="67.03" x2="59.50" y2="67.03" stroke-width="0.9"/>
<line x1="55.80" y1="54.12" x2="59.50" y2="54.12" stroke-width="0.9"/>
<line x1="55.80" y1="41.22" x2="59.50" y2="41.22" stroke-width="0.9"/>
<line x1="52.00" y1="28.31" x2="59.50" y2="28.31" stroke-width="1.0"/>
</g>
<g font-family="Liberation Sans, sans-serif" font-size="16" fill="#222">
<text x="0" y="0" text-anchor="middle" font-size="16.3" transform="translate(72.45,250.90) scale(1.04,1)">0</text>
<text x="0" y="0" text-anchor="middle" font-size="16.3" transform="translate(135.25,250.90) scale(1.04,1)">5</text>
<text x="0" y="0" text-anchor="middle" font-size="16.3" transform="translate(198.05,250.90) scale(1.04,1)">10</text>
<text x="0" y="0" text-anchor="middle" font-size="16.3" transform="translate(260.85,250.90) scale(1.04,1)">15</text>
<text x="0" y="0" text-anchor="middle" font-size="16.3" transform="translate(323.65,250.90) scale(1.04,1)">20</text>
<text x="0" y="0" text-anchor="end" transform="translate(48.45,228.40) scale(1.06,1)">0.0</text>
<text x="0" y="0" text-anchor="end" transform="translate(48.45,163.87) scale(1.06,1)">0.5</text>
<text x="0" y="0" text-anchor="end" transform="translate(48.45,99.34) scale(1.06,1)">1.0</text>
<text x="0" y="0" text-anchor="end" transform="translate(48.45,34.81) scale(1.06,1)">1.5</text>
</g>
<g stroke="#2a2a2a" fill="none">
<rect x="431.50" y="21.10" width="276.80" height="206.70" stroke-width="1" stroke="#3a3a3a"/>
<line x1="431.43" y1="227.80" x2="431.43" y2="231.50" stroke-width="0.9"/>
<line x1="444.00" y1="227.80" x2="444.00" y2="235.10" stroke-width="1.0"/>
<line x1="456.57" y1="227.80" x2="456.57" y2="231.50" stroke-width="0.9"/>
<line x1="469.15" y1="227.80" x2="469.15" y2="231.50" stroke-width="0.9"/>
<line x1="481.73" y1="227.80" x2="481.73" y2="231.50" stroke-width="0.9"/>
<line x1="494.30" y1="227.80" x2="494.30" y2="231.50" stroke-width="0.9"/>
<line x1="506.88" y1="227.80" x2="506.88" y2="235.10" stroke-width="1.0"/>
<line x1="519.45" y1="227.80" x2="519.45" y2="231.50" stroke-width="0.9"/>
<line x1="532.02" y1="227.80" x2="532.02" y2="231.50" stroke-width="0.9"/>
<line x1="544.60" y1="227.80" x2="544.60" y2="231.50" stroke-width="0.9"/>
<line x1="557.17" y1="227.80" x2="557.17" y2="231.50" stroke-width="0.9"/>
<line x1="569.75" y1="227.80" x2="569.75" y2="235.10" stroke-width="1.0"/>
<line x1="582.33" y1="227.80" x2="582.33" y2="231.50" stroke-width="0.9"/>
<line x1="594.90" y1="227.80" x2="594.90" y2="231.50" stroke-width="0.9"/>
<line x1="607.48" y1="227.80" x2="607.48" y2="231.50" stroke-width="0.9"/>
<line x1="620.05" y1="227.80" x2="620.05" y2="231.50" stroke-width="0.9"/>
<line x1="632.62" y1="227.80" x2="632.62" y2="235.10" stroke-width="1.0"/>
<line x1="645.20" y1="227.80" x2="645.20" y2="231.50" stroke-width="0.9"/>
<line x1="657.77" y1="227.80" x2="657.77" y2="231.50" stroke-width="0.9"/>
<line x1="670.35" y1="227.80" x2="670.35" y2="231.50" stroke-width="0.9"/>
<line x1="682.92" y1="227.80" x2="682.92" y2="231.50" stroke-width="0.9"/>
<line x1="695.50" y1="227.80" x2="695.50" y2="235.10" stroke-width="1.0"/>
<line x1="708.08" y1="227.80" x2="708.08" y2="231.50" stroke-width="0.9"/>
<line x1="424.00" y1="221.00" x2="431.50" y2="221.00" stroke-width="1.0"/>
<line x1="427.80" y1="208.11" x2="431.50" y2="208.11" stroke-width="0.9"/>
<line x1="427.80" y1="195.23" x2="431.50" y2="195.23" stroke-width="0.9"/>
<line x1="427.80" y1="182.34" x2="431.50" y2="182.34" stroke-width="0.9"/>
<line x1="427.80" y1="169.45" x2="431.50" y2="169.45" stroke-width="0.9"/>
<line x1="424.00" y1="156.56" x2="431.50" y2="156.56" stroke-width="1.0"/>
<line x1="427.80" y1="143.68" x2="431.50" y2="143.68" stroke-width="0.9"/>
<line x1="427.80" y1="130.79" x2="431.50" y2="130.79" stroke-width="0.9"/>
<line x1="427.80" y1="117.90" x2="431.50" y2="117.90" stroke-width="0.9"/>
<line x1="427.80" y1="105.02" x2="431.50" y2="105.02" stroke-width="0.9"/>
<line x1="424.00" y1="92.13" x2="431.50" y2="92.13" stroke-width="1.0"/>
<line x1="427.80" y1="79.24" x2="431.50" y2="79.24" stroke-width="0.9"/>
<line x1="427.80" y1="66.36" x2="431.50" y2="66.36" stroke-width="0.9"/>
<line x1="427.80" y1="53.47" x2="431.50" y2="53.47" stroke-width="0.9"/>
<line x1="427.80" y1="40.58" x2="431.50" y2="40.58" stroke-width="0.9"/>
<line x1="424.00" y1="27.69" x2="431.50" y2="27.69" stroke-width="1.0"/>
</g>
<g font-family="Liberation Sans, sans-serif" font-size="16" fill="#222">
<text x="0" y="0" text-anchor="middle" font-size="16.3" transform="translate(444.00,250.40) scale(1.04,1)">0</text>
<text x="0" y="0" text-anchor="middle" font-size="16.3" transform="translate(506.88,250.40) scale(1.04,1)">5</text>
<text x="0" y="0" text-anchor="middle" font-size="16.3" transform="translate(569.75,250.40) scale(1.04,1)">10</text>
<text x="0" y="0" text-anchor="middle" font-size="16.3" transform="translate(632.62,250.40) scale(1.04,1)">15</text>
<text x="0" y="0" text-anchor="middle" font-size="16.3" transform="translate(695.50,250.40) scale(1.04,1)">20</text>
<text x="0" y="0" text-anchor="end" transform="translate(420.45,227.50) scale(1.06,1)">0.0</text>
<text x="0" y="0" text-anchor="end" transform="translate(420.45,163.06) scale(1.06,1)">0.5</text>
<text x="0" y="0" text-anchor="end" transform="translate(420.45,98.63) scale(1.06,1)">1.0</text>
<text x="0" y="0" text-anchor="end" transform="translate(420.45,34.19) scale(1.06,1)">1.5</text>
</g>
<text x="0" y="0" font-family="Liberation Serif, serif" font-size="19" fill="#111" transform="translate(169.00,268.35) scale(1.12,1)">time <tspan font-style="italic">t</tspan></text>
<text font-family="Liberation Serif, serif" font-size="19" fill="#111" transform="translate(14.00,209.90) rotate(-90) scale(1.112,1)">population density <tspan font-style="italic">y</tspan></text>
<text x="0" y="0" font-family="Liberation Serif, serif" font-size="19" fill="#111" transform="translate(541.00,268.35) scale(1.12,1)">time <tspan font-style="italic">t</tspan></text>
<text font-family="Liberation Serif, serif" font-size="19" fill="#111" transform="translate(386.00,209.90) rotate(-90) scale(1.112,1)">population density <tspan font-style="italic">y</tspan></text>
<text font-family="Liberation Sans, sans-serif" font-weight="bold" fill="#000" font-size="19" transform="translate(6.00,11.7) scale(0.9,1)">(</text>
<text font-family="Liberation Sans, sans-serif" font-weight="bold" fill="#000" font-size="17" transform="translate(12.26,12.3) scale(0.920,1)">a</text>
<text font-family="Liberation Sans, sans-serif" font-weight="bold" fill="#000" font-size="19" transform="translate(21.11,11.7) scale(0.9,1)">)</text>
<text font-family="Liberation Sans, sans-serif" font-weight="bold" fill="#000" font-size="19" transform="translate(370.50,11.7) scale(0.9,1)">(</text>
<text font-family="Liberation Sans, sans-serif" font-weight="bold" fill="#000" font-size="17" transform="translate(376.16,12.3) scale(1.000,1)">b</text>
<text font-family="Liberation Sans, sans-serif" font-weight="bold" fill="#000" font-size="19" transform="translate(386.61,11.7) scale(0.9,1)">)</text>
<text x="0" y="0" font-family="Liberation Serif" font-style="italic" font-weight="normal" font-size="19.40" fill="#1f77b4" transform="translate(597.99,154.90) scale(1.000,1)">Y</text>
<text x="0" y="0" font-family="Liberation Serif" font-style="normal" font-weight="normal" font-size="14.74" fill="#1f77b4" transform="translate(606.66,157.70) scale(1.137,1)">0</text>
<text x="0" y="0" font-family="Liberation Serif" font-style="normal" font-weight="normal" font-size="21.20" fill="#1f77b4" transform="translate(619.93,156.60) scale(1.014,1)">=</text>
<text x="0" y="0" font-family="Liberation Serif" font-style="italic" font-weight="normal" font-size="19.40" fill="#1f77b4" transform="translate(637.12,154.90) scale(0.972,1)">K</text>
<text x="0" y="0" font-family="Liberation Serif" font-style="normal" font-weight="normal" font-size="20.33" fill="#1f77b4" transform="translate(652.10,155.00) scale(0.797,1)">/</text>
<text x="0" y="0" font-family="Liberation Serif" font-style="normal" font-weight="normal" font-size="19.09" fill="#1f77b4" transform="translate(658.75,154.90) scale(0.982,1)">1</text>
<text x="0" y="0" font-family="Liberation Serif" font-style="normal" font-weight="normal" font-size="19.40" fill="#1f77b4" transform="translate(668.22,155.00) scale(0.924,1)">0</text>
<text x="0" y="0" font-family="Liberation Serif" font-style="italic" font-weight="normal" font-size="19.40" fill="#ff7f0e" transform="translate(597.39,181.60) scale(1.000,1)">Y</text>
<text x="0" y="0" font-family="Liberation Serif" font-style="normal" font-weight="normal" font-size="14.74" fill="#ff7f0e" transform="translate(606.06,184.40) scale(1.137,1)">0</text>
<text x="0" y="0" font-family="Liberation Serif" font-style="normal" font-weight="normal" font-size="21.20" fill="#ff7f0e" transform="translate(619.33,183.30) scale(1.014,1)">=</text>
<text x="0" y="0" font-family="Liberation Serif" font-style="italic" font-weight="normal" font-size="19.40" fill="#ff7f0e" transform="translate(636.52,181.60) scale(0.957,1)">K</text>
<text x="0" y="0" font-family="Liberation Serif" font-style="italic" font-weight="normal" font-size="19.40" fill="#2ca02c" transform="translate(597.99,208.60) scale(1.000,1)">Y</text>
<text x="0" y="0" font-family="Liberation Serif" font-style="normal" font-weight="normal" font-size="14.74" fill="#2ca02c" transform="translate(606.66,211.40) scale(1.137,1)">0</text>
<text x="0" y="0" font-family="Liberation Serif" font-style="normal" font-weight="normal" font-size="21.20" fill="#2ca02c" transform="translate(619.93,210.30) scale(1.014,1)">=</text>
<text x="0" y="0" font-family="Liberation Serif" font-style="normal" font-weight="normal" font-size="19.33" fill="#2ca02c" transform="translate(635.24,208.70) scale(0.927,1)">3</text>
<text x="0" y="0" font-family="Liberation Serif" font-style="italic" font-weight="normal" font-size="19.40" fill="#2ca02c" transform="translate(645.53,208.60) scale(1.000,1)">K</text>
<text x="0" y="0" font-family="Liberation Serif" font-style="normal" font-weight="normal" font-size="20.33" fill="#2ca02c" transform="translate(661.10,208.70) scale(0.761,1)">/</text>
<text x="0" y="0" font-family="Liberation Serif" font-style="normal" font-weight="normal" font-size="19.03" fill="#2ca02c" transform="translate(667.58,208.60) scale(1.101,1)">2</text>
</svg></body></html>
